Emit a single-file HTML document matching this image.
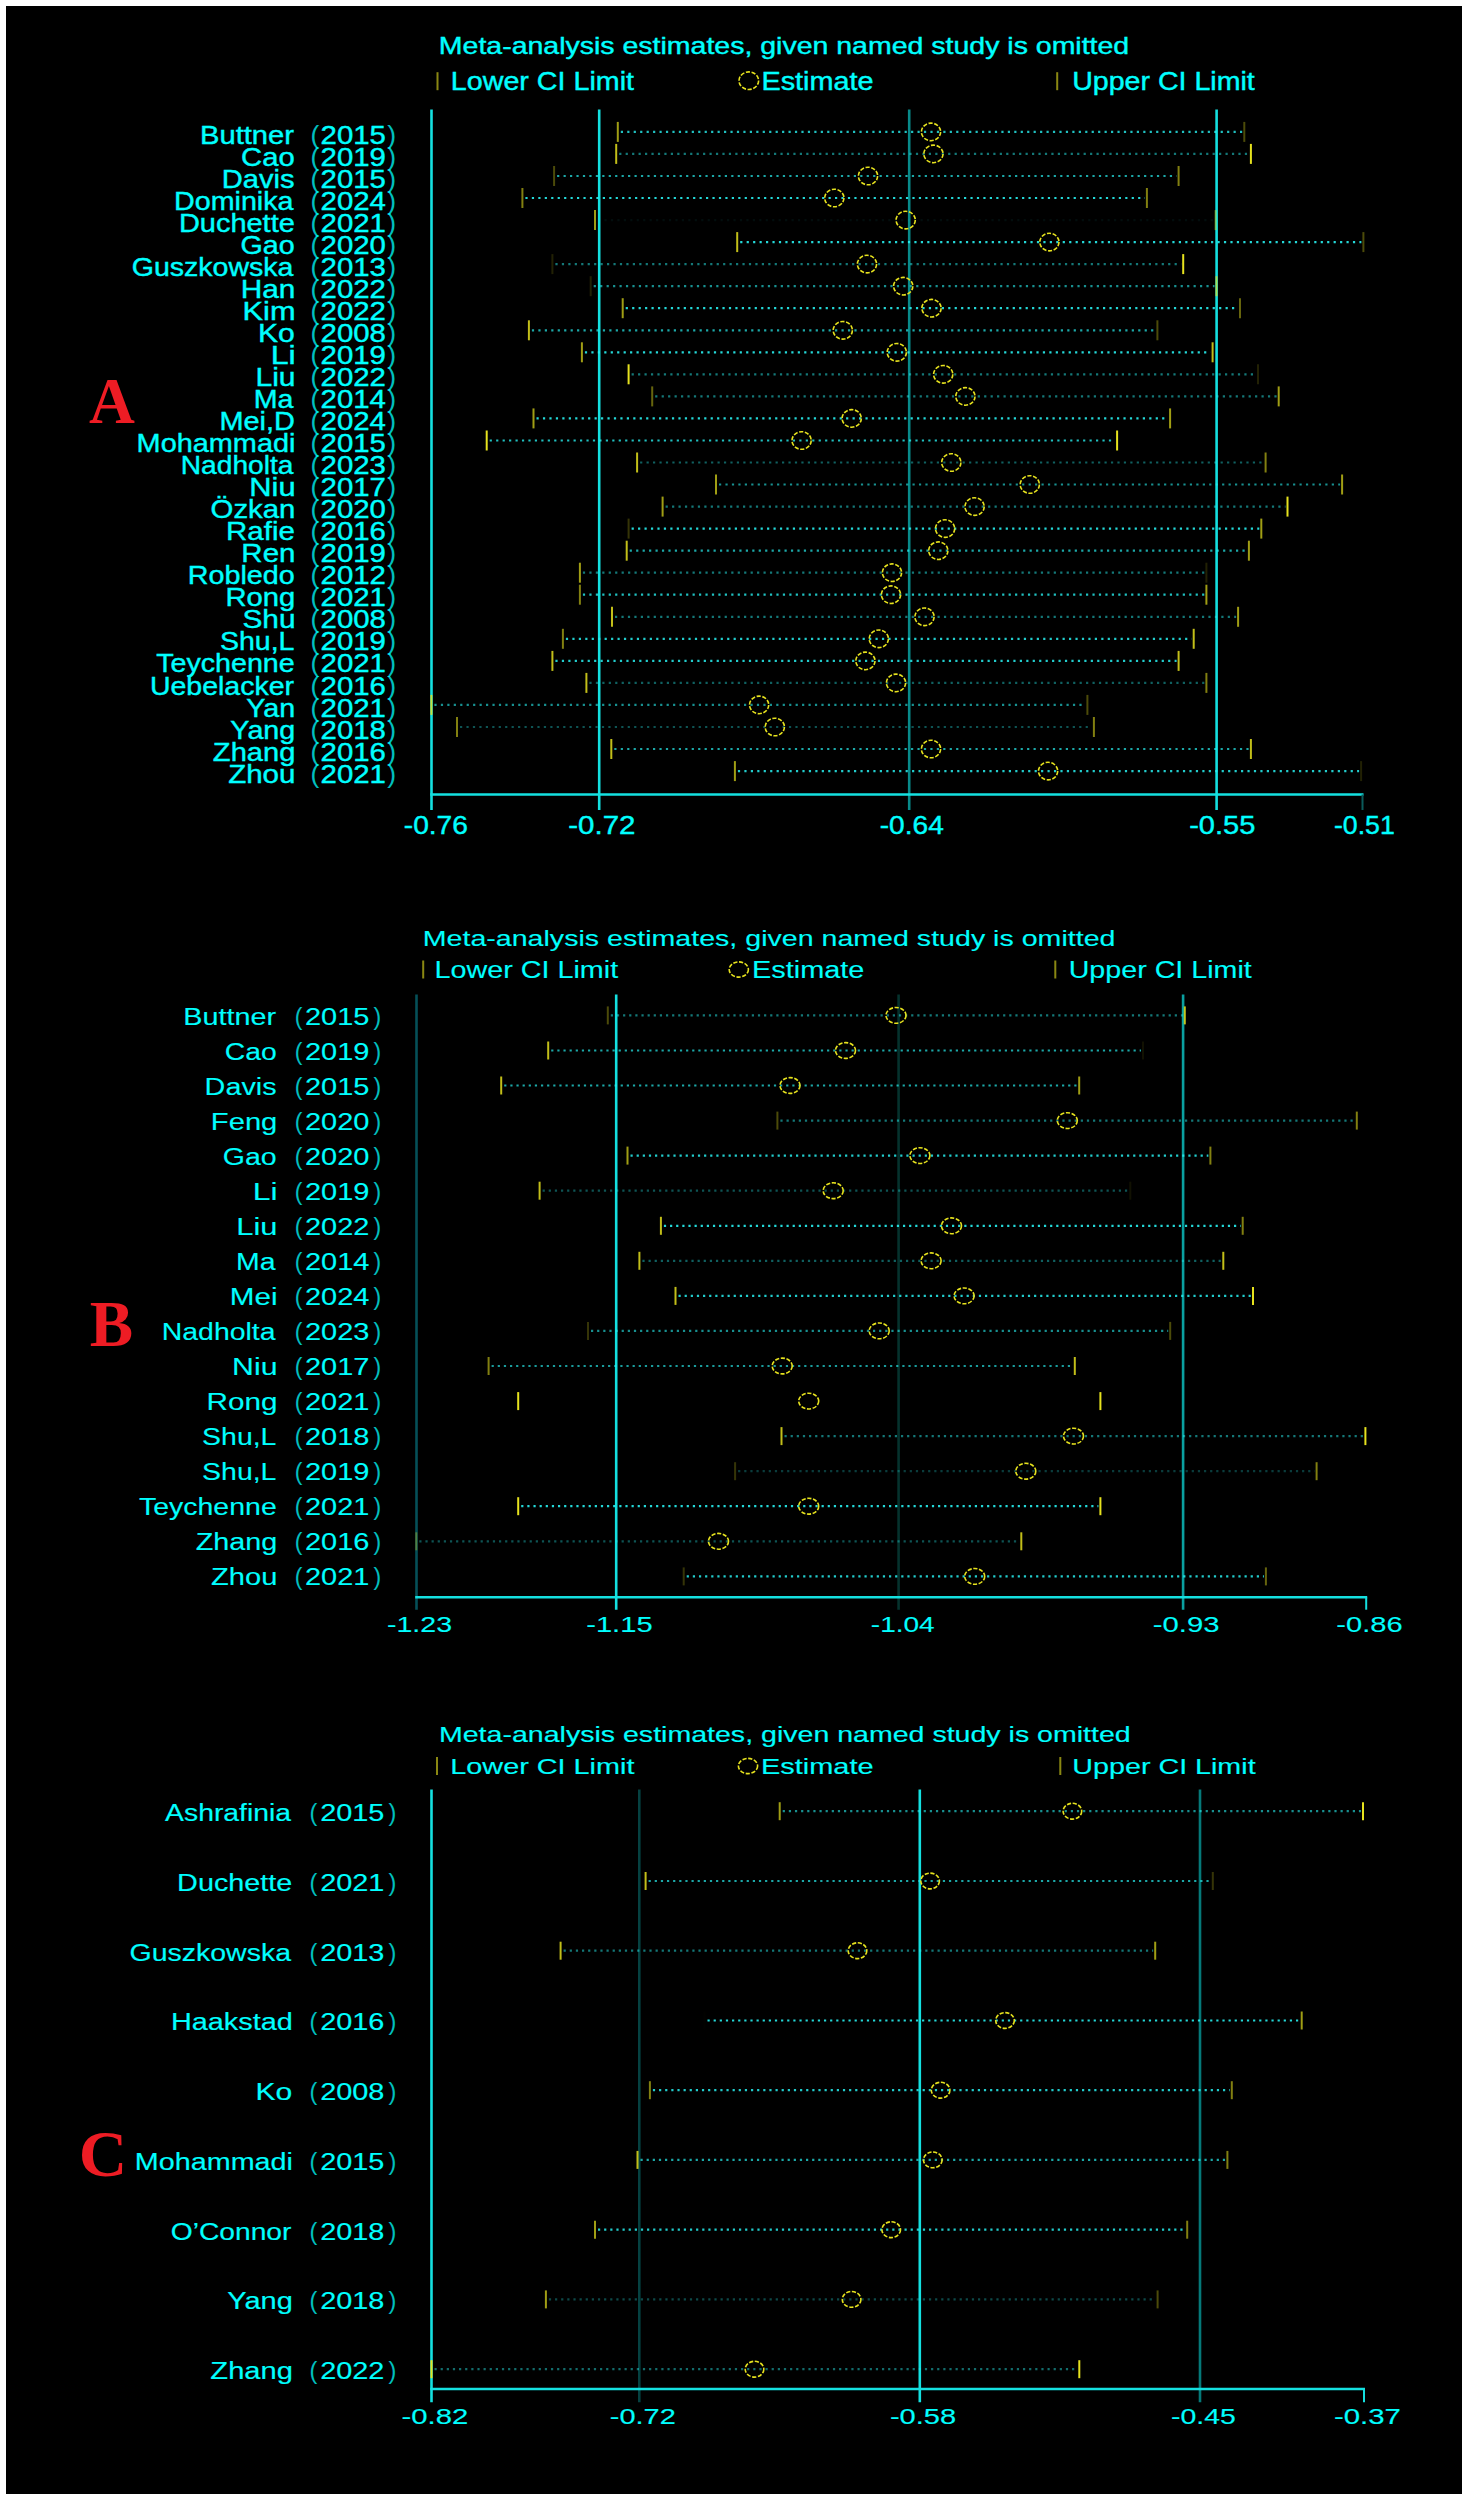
<!DOCTYPE html>
<html><head><meta charset="utf-8"><title>Sensitivity analysis</title><style>
html,body{margin:0;padding:0;background:#fff;width:1468px;height:2500px;overflow:hidden}
svg{position:absolute;left:0;top:0;display:block}
text{font-family:"Liberation Sans",sans-serif}
</style></head><body>
<svg width="1468" height="2500" viewBox="0 0 1468 2500">
<rect x="6" y="6" width="1456" height="2488" fill="#000"/>
<line x1="431.5" y1="109.4" x2="431.5" y2="810" stroke="#14e0e0" stroke-width="2.6"/>
<line x1="599.2" y1="109.4" x2="599.2" y2="810" stroke="#14e0e0" stroke-width="2.6"/>
<line x1="909.2" y1="109.4" x2="909.2" y2="810" stroke="#088a8a" stroke-width="2.6"/>
<line x1="1216.6" y1="109.4" x2="1216.6" y2="810" stroke="#14e0e0" stroke-width="2.6"/>
<line x1="430.2" y1="794.5" x2="1363.5" y2="794.5" stroke="#14e0e0" stroke-width="2.6"/>
<line x1="1362.5" y1="794.5" x2="1362.5" y2="810" stroke="#0b5a5a" stroke-width="2"/>
<text x="403.75" y="833.50" font-size="26.5" textLength="64.19" lengthAdjust="spacingAndGlyphs" fill="#00ffff" style="font-family:&quot;Liberation Sans&quot;;font-weight:normal" stroke="#00ffff" stroke-width="0.4">-0.76</text>
<text x="568.29" y="833.50" font-size="26.5" textLength="67.19" lengthAdjust="spacingAndGlyphs" fill="#00ffff" style="font-family:&quot;Liberation Sans&quot;;font-weight:normal" stroke="#00ffff" stroke-width="0.4">-0.72</text>
<text x="879.75" y="833.50" font-size="26.5" textLength="64.07" lengthAdjust="spacingAndGlyphs" fill="#00ffff" style="font-family:&quot;Liberation Sans&quot;;font-weight:normal" stroke="#00ffff" stroke-width="0.4">-0.64</text>
<text x="1189.21" y="833.50" font-size="26.5" textLength="66.21" lengthAdjust="spacingAndGlyphs" fill="#00ffff" style="font-family:&quot;Liberation Sans&quot;;font-weight:normal" stroke="#00ffff" stroke-width="0.4">-0.55</text>
<text x="1333.91" y="833.50" font-size="26.5" textLength="60.89" lengthAdjust="spacingAndGlyphs" fill="#00ffff" style="font-family:&quot;Liberation Sans&quot;;font-weight:normal" stroke="#00ffff" stroke-width="0.4">-0.51</text>
<text x="438.86" y="53.50" font-size="24.5" textLength="690.37" lengthAdjust="spacingAndGlyphs" fill="#00ffff" style="font-family:&quot;Liberation Sans&quot;;font-weight:normal" stroke="#00ffff" stroke-width="0.4">Meta-analysis estimates, given named study is omitted</text>
<line x1="437.5" y1="72.2" x2="437.5" y2="90.2" stroke="#e6e21e" stroke-width="2" opacity="0.6"/>
<line x1="1057.2" y1="72.2" x2="1057.2" y2="90.2" stroke="#e6e21e" stroke-width="2" opacity="0.6"/>
<ellipse cx="748.8" cy="80.7" rx="9.8" ry="8.8" fill="none" stroke="#e6e21e" stroke-width="1.6" stroke-dasharray="4.2 1.6" opacity="1.0"/>
<text x="450.85" y="90.00" font-size="25.5" textLength="183.16" lengthAdjust="spacingAndGlyphs" fill="#00ffff" style="font-family:&quot;Liberation Sans&quot;;font-weight:normal" stroke="#00ffff" stroke-width="0.4">Lower CI Limit</text>
<text x="761.44" y="90.00" font-size="25.5" textLength="112.04" lengthAdjust="spacingAndGlyphs" fill="#00ffff" style="font-family:&quot;Liberation Sans&quot;;font-weight:normal" stroke="#00ffff" stroke-width="0.4">Estimate</text>
<text x="1072.20" y="90.00" font-size="25.5" textLength="182.61" lengthAdjust="spacingAndGlyphs" fill="#00ffff" style="font-family:&quot;Liberation Sans&quot;;font-weight:normal" stroke="#00ffff" stroke-width="0.4">Upper CI Limit</text>
<line x1="620.8" y1="131.9" x2="1242.3" y2="131.9" stroke="#28f0f0" stroke-width="2.2" stroke-dasharray="2.2 4.25" opacity="0.8"/>
<line x1="617.8" y1="121.9" x2="617.8" y2="141.9" stroke="#e6e21e" stroke-width="2" opacity="0.6997517273236981"/>
<line x1="1244.3" y1="121.9" x2="1244.3" y2="141.9" stroke="#e6e21e" stroke-width="2" opacity="0.32987697769322355"/>
<ellipse cx="931.0" cy="131.9" rx="9.6" ry="8.8" fill="none" stroke="#e6e21e" stroke-width="1.6" stroke-dasharray="4.2 1.6" opacity="1.0"/>
<text x="200.01" y="143.50" font-size="26.5" textLength="93.97" lengthAdjust="spacingAndGlyphs" fill="#00ffff" style="font-family:&quot;Liberation Sans&quot;;font-weight:normal" stroke="#00ffff" stroke-width="0.4">Buttner</text>
<text x="320.62" y="143.50" font-size="26.5" textLength="65.31" lengthAdjust="spacingAndGlyphs" fill="#00ffff" stroke="#00ffff" stroke-width="0.4">2015</text>
<text x="310.56" y="143.50" font-size="26.5" fill="#00ffff" opacity="0.75">(</text>
<text x="387.22" y="143.50" font-size="26.5" fill="#00ffff" opacity="0.75">)</text>
<line x1="619.2" y1="153.9" x2="1248.9" y2="153.9" stroke="#28f0f0" stroke-width="2.2" stroke-dasharray="2.2 4.25" opacity="0.5"/>
<line x1="616.2" y1="143.9" x2="616.2" y2="163.9" stroke="#e6e21e" stroke-width="2" opacity="0.8448663540236125"/>
<line x1="1250.9" y1="143.9" x2="1250.9" y2="163.9" stroke="#e6e21e" stroke-width="2" opacity="1.0"/>
<ellipse cx="933.4" cy="153.9" rx="9.6" ry="8.8" fill="none" stroke="#e6e21e" stroke-width="1.6" stroke-dasharray="4.2 1.6" opacity="1.0"/>
<text x="241.12" y="165.54" font-size="26.5" textLength="53.61" lengthAdjust="spacingAndGlyphs" fill="#00ffff" style="font-family:&quot;Liberation Sans&quot;;font-weight:normal" stroke="#00ffff" stroke-width="0.4">Cao</text>
<text x="320.62" y="165.54" font-size="26.5" textLength="65.31" lengthAdjust="spacingAndGlyphs" fill="#00ffff" stroke="#00ffff" stroke-width="0.4">2019</text>
<text x="310.56" y="165.54" font-size="26.5" fill="#00ffff" opacity="0.75">(</text>
<text x="387.22" y="165.54" font-size="26.5" fill="#00ffff" opacity="0.75">)</text>
<line x1="557.1" y1="176.0" x2="1176.6" y2="176.0" stroke="#28f0f0" stroke-width="2.2" stroke-dasharray="2.2 4.25" opacity="0.7"/>
<line x1="554.1" y1="166.0" x2="554.1" y2="186.0" stroke="#e6e21e" stroke-width="2" opacity="0.32987697769322355"/>
<line x1="1178.6" y1="166.0" x2="1178.6" y2="186.0" stroke="#e6e21e" stroke-width="2" opacity="0.5651410628131079"/>
<ellipse cx="868.0" cy="176.0" rx="9.6" ry="8.8" fill="none" stroke="#e6e21e" stroke-width="1.6" stroke-dasharray="4.2 1.6" opacity="1.0"/>
<text x="221.81" y="187.58" font-size="26.5" textLength="72.74" lengthAdjust="spacingAndGlyphs" fill="#00ffff" style="font-family:&quot;Liberation Sans&quot;;font-weight:normal" stroke="#00ffff" stroke-width="0.4">Davis</text>
<text x="320.62" y="187.58" font-size="26.5" textLength="65.31" lengthAdjust="spacingAndGlyphs" fill="#00ffff" stroke="#00ffff" stroke-width="0.4">2015</text>
<text x="310.56" y="187.58" font-size="26.5" fill="#00ffff" opacity="0.75">(</text>
<text x="387.22" y="187.58" font-size="26.5" fill="#00ffff" opacity="0.75">)</text>
<line x1="525.4" y1="198.0" x2="1144.9" y2="198.0" stroke="#28f0f0" stroke-width="2.2" stroke-dasharray="2.2 4.25" opacity="0.9"/>
<line x1="522.4" y1="188.0" x2="522.4" y2="208.0" stroke="#e6e21e" stroke-width="2" opacity="0.5651410628131079"/>
<line x1="1146.9" y1="188.0" x2="1146.9" y2="208.0" stroke="#e6e21e" stroke-width="2" opacity="0.5651410628131079"/>
<ellipse cx="834.3" cy="198.0" rx="9.6" ry="8.8" fill="none" stroke="#e6e21e" stroke-width="1.6" stroke-dasharray="4.2 1.6" opacity="1.0"/>
<text x="174.05" y="209.62" font-size="26.5" textLength="119.45" lengthAdjust="spacingAndGlyphs" fill="#00ffff" style="font-family:&quot;Liberation Sans&quot;;font-weight:normal" stroke="#00ffff" stroke-width="0.4">Dominika</text>
<text x="320.62" y="209.62" font-size="26.5" textLength="65.31" lengthAdjust="spacingAndGlyphs" fill="#00ffff" stroke="#00ffff" stroke-width="0.4">2024</text>
<text x="310.56" y="209.62" font-size="26.5" fill="#00ffff" opacity="0.75">(</text>
<text x="387.22" y="209.62" font-size="26.5" fill="#00ffff" opacity="0.75">)</text>
<line x1="598.0" y1="220.1" x2="1213.6" y2="220.1" stroke="#28f0f0" stroke-width="2.2" stroke-dasharray="2.2 4.25" opacity="0.05"/>
<line x1="595.0" y1="210.1" x2="595.0" y2="230.1" stroke="#e6e21e" stroke-width="2" opacity="0.6997517273236981"/>
<line x1="1215.6" y1="210.1" x2="1215.6" y2="230.1" stroke="#e6e21e" stroke-width="2" opacity="0.4416131536906999"/>
<ellipse cx="905.7" cy="220.1" rx="9.6" ry="8.8" fill="none" stroke="#e6e21e" stroke-width="1.6" stroke-dasharray="4.2 1.6" opacity="1.0"/>
<text x="178.93" y="231.66" font-size="26.5" textLength="115.86" lengthAdjust="spacingAndGlyphs" fill="#00ffff" style="font-family:&quot;Liberation Sans&quot;;font-weight:normal" stroke="#00ffff" stroke-width="0.4">Duchette</text>
<text x="320.62" y="231.66" font-size="26.5" textLength="65.31" lengthAdjust="spacingAndGlyphs" fill="#00ffff" stroke="#00ffff" stroke-width="0.4">2021</text>
<text x="310.56" y="231.66" font-size="26.5" fill="#00ffff" opacity="0.75">(</text>
<text x="387.22" y="231.66" font-size="26.5" fill="#00ffff" opacity="0.75">)</text>
<line x1="740.2" y1="242.1" x2="1361.4" y2="242.1" stroke="#28f0f0" stroke-width="2.2" stroke-dasharray="2.2 4.25" opacity="0.9"/>
<line x1="737.2" y1="232.1" x2="737.2" y2="252.1" stroke="#e6e21e" stroke-width="2" opacity="0.8448663540236125"/>
<line x1="1363.4" y1="232.1" x2="1363.4" y2="252.1" stroke="#e6e21e" stroke-width="2" opacity="0.32987697769322355"/>
<ellipse cx="1049.4" cy="242.1" rx="9.6" ry="8.8" fill="none" stroke="#e6e21e" stroke-width="1.6" stroke-dasharray="4.2 1.6" opacity="1.0"/>
<text x="240.56" y="253.70" font-size="26.5" textLength="54.14" lengthAdjust="spacingAndGlyphs" fill="#00ffff" style="font-family:&quot;Liberation Sans&quot;;font-weight:normal" stroke="#00ffff" stroke-width="0.4">Gao</text>
<text x="320.62" y="253.70" font-size="26.5" textLength="65.31" lengthAdjust="spacingAndGlyphs" fill="#00ffff" stroke="#00ffff" stroke-width="0.4">2020</text>
<text x="310.56" y="253.70" font-size="26.5" fill="#00ffff" opacity="0.75">(</text>
<text x="387.22" y="253.70" font-size="26.5" fill="#00ffff" opacity="0.75">)</text>
<line x1="555.4" y1="264.1" x2="1181.2" y2="264.1" stroke="#28f0f0" stroke-width="2.2" stroke-dasharray="2.2 4.25" opacity="0.5"/>
<line x1="552.4" y1="254.1" x2="552.4" y2="274.1" stroke="#e6e21e" stroke-width="2" opacity="0.14567801244906112"/>
<line x1="1183.2" y1="254.1" x2="1183.2" y2="274.1" stroke="#e6e21e" stroke-width="2" opacity="1.0"/>
<ellipse cx="867.0" cy="264.1" rx="9.6" ry="8.8" fill="none" stroke="#e6e21e" stroke-width="1.6" stroke-dasharray="4.2 1.6" opacity="1.0"/>
<text x="131.77" y="275.74" font-size="26.5" textLength="161.73" lengthAdjust="spacingAndGlyphs" fill="#00ffff" style="font-family:&quot;Liberation Sans&quot;;font-weight:normal" stroke="#00ffff" stroke-width="0.4">Guszkowska</text>
<text x="320.62" y="275.74" font-size="26.5" textLength="65.31" lengthAdjust="spacingAndGlyphs" fill="#00ffff" stroke="#00ffff" stroke-width="0.4">2013</text>
<text x="310.56" y="275.74" font-size="26.5" fill="#00ffff" opacity="0.75">(</text>
<text x="387.22" y="275.74" font-size="26.5" fill="#00ffff" opacity="0.75">)</text>
<line x1="593.7" y1="286.2" x2="1214.5" y2="286.2" stroke="#28f0f0" stroke-width="2.2" stroke-dasharray="2.2 4.25" opacity="0.6"/>
<line x1="590.7" y1="276.2" x2="590.7" y2="296.2" stroke="#e6e21e" stroke-width="2" opacity="0.14567801244906112"/>
<line x1="1216.5" y1="276.2" x2="1216.5" y2="296.2" stroke="#e6e21e" stroke-width="2" opacity="0.6997517273236981"/>
<ellipse cx="903.2" cy="286.2" rx="9.6" ry="8.8" fill="none" stroke="#e6e21e" stroke-width="1.6" stroke-dasharray="4.2 1.6" opacity="1.0"/>
<text x="240.75" y="297.78" font-size="26.5" textLength="54.68" lengthAdjust="spacingAndGlyphs" fill="#00ffff" style="font-family:&quot;Liberation Sans&quot;;font-weight:normal" stroke="#00ffff" stroke-width="0.4">Han</text>
<text x="320.62" y="297.78" font-size="26.5" textLength="65.31" lengthAdjust="spacingAndGlyphs" fill="#00ffff" stroke="#00ffff" stroke-width="0.4">2022</text>
<text x="310.56" y="297.78" font-size="26.5" fill="#00ffff" opacity="0.75">(</text>
<text x="387.22" y="297.78" font-size="26.5" fill="#00ffff" opacity="0.75">)</text>
<line x1="625.7" y1="308.2" x2="1238.0" y2="308.2" stroke="#28f0f0" stroke-width="2.2" stroke-dasharray="2.2 4.25" opacity="0.9"/>
<line x1="622.7" y1="298.2" x2="622.7" y2="318.2" stroke="#e6e21e" stroke-width="2" opacity="0.6997517273236981"/>
<line x1="1240.0" y1="298.2" x2="1240.0" y2="318.2" stroke="#e6e21e" stroke-width="2" opacity="0.4416131536906999"/>
<ellipse cx="931.5" cy="308.2" rx="9.6" ry="8.8" fill="none" stroke="#e6e21e" stroke-width="1.6" stroke-dasharray="4.2 1.6" opacity="1.0"/>
<text x="242.58" y="319.82" font-size="26.5" textLength="52.95" lengthAdjust="spacingAndGlyphs" fill="#00ffff" style="font-family:&quot;Liberation Sans&quot;;font-weight:normal" stroke="#00ffff" stroke-width="0.4">Kim</text>
<text x="320.62" y="319.82" font-size="26.5" textLength="65.31" lengthAdjust="spacingAndGlyphs" fill="#00ffff" stroke="#00ffff" stroke-width="0.4">2022</text>
<text x="310.56" y="319.82" font-size="26.5" fill="#00ffff" opacity="0.75">(</text>
<text x="387.22" y="319.82" font-size="26.5" fill="#00ffff" opacity="0.75">)</text>
<line x1="531.9" y1="330.3" x2="1155.4" y2="330.3" stroke="#28f0f0" stroke-width="2.2" stroke-dasharray="2.2 4.25" opacity="0.7"/>
<line x1="528.9" y1="320.3" x2="528.9" y2="340.3" stroke="#e6e21e" stroke-width="2" opacity="0.8448663540236125"/>
<line x1="1157.4" y1="320.3" x2="1157.4" y2="340.3" stroke="#e6e21e" stroke-width="2" opacity="0.32987697769322355"/>
<ellipse cx="842.8" cy="330.3" rx="9.6" ry="8.8" fill="none" stroke="#e6e21e" stroke-width="1.6" stroke-dasharray="4.2 1.6" opacity="1.0"/>
<text x="257.93" y="341.86" font-size="26.5" textLength="36.83" lengthAdjust="spacingAndGlyphs" fill="#00ffff" style="font-family:&quot;Liberation Sans&quot;;font-weight:normal" stroke="#00ffff" stroke-width="0.4">Ko</text>
<text x="320.62" y="341.86" font-size="26.5" textLength="65.31" lengthAdjust="spacingAndGlyphs" fill="#00ffff" stroke="#00ffff" stroke-width="0.4">2008</text>
<text x="310.56" y="341.86" font-size="26.5" fill="#00ffff" opacity="0.75">(</text>
<text x="387.22" y="341.86" font-size="26.5" fill="#00ffff" opacity="0.75">)</text>
<line x1="584.9" y1="352.3" x2="1210.6" y2="352.3" stroke="#28f0f0" stroke-width="2.2" stroke-dasharray="2.2 4.25" opacity="0.9"/>
<line x1="581.9" y1="342.3" x2="581.9" y2="362.3" stroke="#e6e21e" stroke-width="2" opacity="0.6997517273236981"/>
<line x1="1212.6" y1="342.3" x2="1212.6" y2="362.3" stroke="#e6e21e" stroke-width="2" opacity="0.8448663540236125"/>
<ellipse cx="896.8" cy="352.3" rx="9.6" ry="8.8" fill="none" stroke="#e6e21e" stroke-width="1.6" stroke-dasharray="4.2 1.6" opacity="1.0"/>
<text x="270.67" y="363.90" font-size="26.5" textLength="25.00" lengthAdjust="spacingAndGlyphs" fill="#00ffff" style="font-family:&quot;Liberation Sans&quot;;font-weight:normal" stroke="#00ffff" stroke-width="0.4">Li</text>
<text x="320.62" y="363.90" font-size="26.5" textLength="65.31" lengthAdjust="spacingAndGlyphs" fill="#00ffff" stroke="#00ffff" stroke-width="0.4">2019</text>
<text x="310.56" y="363.90" font-size="26.5" fill="#00ffff" opacity="0.75">(</text>
<text x="387.22" y="363.90" font-size="26.5" fill="#00ffff" opacity="0.75">)</text>
<line x1="631.6" y1="374.3" x2="1256.0" y2="374.3" stroke="#28f0f0" stroke-width="2.2" stroke-dasharray="2.2 4.25" opacity="0.5"/>
<line x1="628.6" y1="364.3" x2="628.6" y2="384.3" stroke="#e6e21e" stroke-width="2" opacity="1.0"/>
<line x1="1258.0" y1="364.3" x2="1258.0" y2="384.3" stroke="#e6e21e" stroke-width="2" opacity="0.14567801244906112"/>
<ellipse cx="943.2" cy="374.3" rx="9.6" ry="8.8" fill="none" stroke="#e6e21e" stroke-width="1.6" stroke-dasharray="4.2 1.6" opacity="1.0"/>
<text x="255.44" y="385.94" font-size="26.5" textLength="40.06" lengthAdjust="spacingAndGlyphs" fill="#00ffff" style="font-family:&quot;Liberation Sans&quot;;font-weight:normal" stroke="#00ffff" stroke-width="0.4">Liu</text>
<text x="320.62" y="385.94" font-size="26.5" textLength="65.31" lengthAdjust="spacingAndGlyphs" fill="#00ffff" stroke="#00ffff" stroke-width="0.4">2022</text>
<text x="310.56" y="385.94" font-size="26.5" fill="#00ffff" opacity="0.75">(</text>
<text x="387.22" y="385.94" font-size="26.5" fill="#00ffff" opacity="0.75">)</text>
<line x1="655.2" y1="396.4" x2="1276.7" y2="396.4" stroke="#28f0f0" stroke-width="2.2" stroke-dasharray="2.2 4.25" opacity="0.5"/>
<line x1="652.2" y1="386.4" x2="652.2" y2="406.4" stroke="#e6e21e" stroke-width="2" opacity="0.4416131536906999"/>
<line x1="1278.7" y1="386.4" x2="1278.7" y2="406.4" stroke="#e6e21e" stroke-width="2" opacity="0.6997517273236981"/>
<ellipse cx="965.4" cy="396.4" rx="9.6" ry="8.8" fill="none" stroke="#e6e21e" stroke-width="1.6" stroke-dasharray="4.2 1.6" opacity="1.0"/>
<text x="253.75" y="407.98" font-size="26.5" textLength="39.75" lengthAdjust="spacingAndGlyphs" fill="#00ffff" style="font-family:&quot;Liberation Sans&quot;;font-weight:normal" stroke="#00ffff" stroke-width="0.4">Ma</text>
<text x="320.62" y="407.98" font-size="26.5" textLength="65.31" lengthAdjust="spacingAndGlyphs" fill="#00ffff" stroke="#00ffff" stroke-width="0.4">2014</text>
<text x="310.56" y="407.98" font-size="26.5" fill="#00ffff" opacity="0.75">(</text>
<text x="387.22" y="407.98" font-size="26.5" fill="#00ffff" opacity="0.75">)</text>
<line x1="536.5" y1="418.4" x2="1168.1" y2="418.4" stroke="#28f0f0" stroke-width="2.2" stroke-dasharray="2.2 4.25" opacity="0.9"/>
<line x1="533.5" y1="408.4" x2="533.5" y2="428.4" stroke="#e6e21e" stroke-width="2" opacity="0.6997517273236981"/>
<line x1="1170.1" y1="408.4" x2="1170.1" y2="428.4" stroke="#e6e21e" stroke-width="2" opacity="0.6997517273236981"/>
<ellipse cx="851.7" cy="418.4" rx="9.6" ry="8.8" fill="none" stroke="#e6e21e" stroke-width="1.6" stroke-dasharray="4.2 1.6" opacity="1.0"/>
<text x="219.43" y="430.02" font-size="26.5" textLength="75.45" lengthAdjust="spacingAndGlyphs" fill="#00ffff" style="font-family:&quot;Liberation Sans&quot;;font-weight:normal" stroke="#00ffff" stroke-width="0.4">Mei,D</text>
<text x="320.62" y="430.02" font-size="26.5" textLength="65.31" lengthAdjust="spacingAndGlyphs" fill="#00ffff" stroke="#00ffff" stroke-width="0.4">2024</text>
<text x="310.56" y="430.02" font-size="26.5" fill="#00ffff" opacity="0.75">(</text>
<text x="387.22" y="430.02" font-size="26.5" fill="#00ffff" opacity="0.75">)</text>
<line x1="489.7" y1="440.5" x2="1115.1" y2="440.5" stroke="#28f0f0" stroke-width="2.2" stroke-dasharray="2.2 4.25" opacity="0.8"/>
<line x1="486.7" y1="430.5" x2="486.7" y2="450.5" stroke="#e6e21e" stroke-width="2" opacity="1.0"/>
<line x1="1117.1" y1="430.5" x2="1117.1" y2="450.5" stroke="#e6e21e" stroke-width="2" opacity="1.0"/>
<ellipse cx="801.6" cy="440.5" rx="9.6" ry="8.8" fill="none" stroke="#e6e21e" stroke-width="1.6" stroke-dasharray="4.2 1.6" opacity="1.0"/>
<text x="136.63" y="452.06" font-size="26.5" textLength="158.81" lengthAdjust="spacingAndGlyphs" fill="#00ffff" style="font-family:&quot;Liberation Sans&quot;;font-weight:normal" stroke="#00ffff" stroke-width="0.4">Mohammadi</text>
<text x="320.62" y="452.06" font-size="26.5" textLength="65.31" lengthAdjust="spacingAndGlyphs" fill="#00ffff" stroke="#00ffff" stroke-width="0.4">2015</text>
<text x="310.56" y="452.06" font-size="26.5" fill="#00ffff" opacity="0.75">(</text>
<text x="387.22" y="452.06" font-size="26.5" fill="#00ffff" opacity="0.75">)</text>
<line x1="640.1" y1="462.5" x2="1263.6" y2="462.5" stroke="#28f0f0" stroke-width="2.2" stroke-dasharray="2.2 4.25" opacity="0.4"/>
<line x1="637.1" y1="452.5" x2="637.1" y2="472.5" stroke="#e6e21e" stroke-width="2" opacity="0.8448663540236125"/>
<line x1="1265.6" y1="452.5" x2="1265.6" y2="472.5" stroke="#e6e21e" stroke-width="2" opacity="0.5651410628131079"/>
<ellipse cx="951.3" cy="462.5" rx="9.6" ry="8.8" fill="none" stroke="#e6e21e" stroke-width="1.6" stroke-dasharray="4.2 1.6" opacity="1.0"/>
<text x="180.79" y="474.10" font-size="26.5" textLength="112.71" lengthAdjust="spacingAndGlyphs" fill="#00ffff" style="font-family:&quot;Liberation Sans&quot;;font-weight:normal" stroke="#00ffff" stroke-width="0.4">Nadholta</text>
<text x="320.62" y="474.10" font-size="26.5" textLength="65.31" lengthAdjust="spacingAndGlyphs" fill="#00ffff" stroke="#00ffff" stroke-width="0.4">2023</text>
<text x="310.56" y="474.10" font-size="26.5" fill="#00ffff" opacity="0.75">(</text>
<text x="387.22" y="474.10" font-size="26.5" fill="#00ffff" opacity="0.75">)</text>
<line x1="719.0" y1="484.5" x2="1340.1" y2="484.5" stroke="#28f0f0" stroke-width="2.2" stroke-dasharray="2.2 4.25" opacity="0.6"/>
<line x1="716.0" y1="474.5" x2="716.0" y2="494.5" stroke="#e6e21e" stroke-width="2" opacity="0.6997517273236981"/>
<line x1="1342.1" y1="474.5" x2="1342.1" y2="494.5" stroke="#e6e21e" stroke-width="2" opacity="0.6997517273236981"/>
<ellipse cx="1029.8" cy="484.5" rx="9.6" ry="8.8" fill="none" stroke="#e6e21e" stroke-width="1.6" stroke-dasharray="4.2 1.6" opacity="1.0"/>
<text x="249.27" y="496.14" font-size="26.5" textLength="46.28" lengthAdjust="spacingAndGlyphs" fill="#00ffff" style="font-family:&quot;Liberation Sans&quot;;font-weight:normal" stroke="#00ffff" stroke-width="0.4">Niu</text>
<text x="320.62" y="496.14" font-size="26.5" textLength="65.31" lengthAdjust="spacingAndGlyphs" fill="#00ffff" stroke="#00ffff" stroke-width="0.4">2017</text>
<text x="310.56" y="496.14" font-size="26.5" fill="#00ffff" opacity="0.75">(</text>
<text x="387.22" y="496.14" font-size="26.5" fill="#00ffff" opacity="0.75">)</text>
<line x1="665.6" y1="506.6" x2="1285.5" y2="506.6" stroke="#28f0f0" stroke-width="2.2" stroke-dasharray="2.2 4.25" opacity="0.5"/>
<line x1="662.6" y1="496.6" x2="662.6" y2="516.6" stroke="#e6e21e" stroke-width="2" opacity="0.6997517273236981"/>
<line x1="1287.5" y1="496.6" x2="1287.5" y2="516.6" stroke="#e6e21e" stroke-width="2" opacity="1.0"/>
<ellipse cx="974.6" cy="506.6" rx="9.6" ry="8.8" fill="none" stroke="#e6e21e" stroke-width="1.6" stroke-dasharray="4.2 1.6" opacity="1.0"/>
<text x="210.61" y="518.18" font-size="26.5" textLength="84.79" lengthAdjust="spacingAndGlyphs" fill="#00ffff" style="font-family:&quot;Liberation Sans&quot;;font-weight:normal" stroke="#00ffff" stroke-width="0.4">Özkan</text>
<text x="320.62" y="518.18" font-size="26.5" textLength="65.31" lengthAdjust="spacingAndGlyphs" fill="#00ffff" stroke="#00ffff" stroke-width="0.4">2020</text>
<text x="310.56" y="518.18" font-size="26.5" fill="#00ffff" opacity="0.75">(</text>
<text x="387.22" y="518.18" font-size="26.5" fill="#00ffff" opacity="0.75">)</text>
<line x1="631.6" y1="528.6" x2="1259.3" y2="528.6" stroke="#28f0f0" stroke-width="2.2" stroke-dasharray="2.2 4.25" opacity="0.9"/>
<line x1="628.6" y1="518.6" x2="628.6" y2="538.6" stroke="#e6e21e" stroke-width="2" opacity="0.23083198494515417"/>
<line x1="1261.3" y1="518.6" x2="1261.3" y2="538.6" stroke="#e6e21e" stroke-width="2" opacity="0.6997517273236981"/>
<ellipse cx="945.1" cy="528.6" rx="9.6" ry="8.8" fill="none" stroke="#e6e21e" stroke-width="1.6" stroke-dasharray="4.2 1.6" opacity="1.0"/>
<text x="226.09" y="540.22" font-size="26.5" textLength="68.72" lengthAdjust="spacingAndGlyphs" fill="#00ffff" style="font-family:&quot;Liberation Sans&quot;;font-weight:normal" stroke="#00ffff" stroke-width="0.4">Rafie</text>
<text x="320.62" y="540.22" font-size="26.5" textLength="65.31" lengthAdjust="spacingAndGlyphs" fill="#00ffff" stroke="#00ffff" stroke-width="0.4">2016</text>
<text x="310.56" y="540.22" font-size="26.5" fill="#00ffff" opacity="0.75">(</text>
<text x="387.22" y="540.22" font-size="26.5" fill="#00ffff" opacity="0.75">)</text>
<line x1="629.7" y1="550.7" x2="1246.9" y2="550.7" stroke="#28f0f0" stroke-width="2.2" stroke-dasharray="2.2 4.25" opacity="0.7"/>
<line x1="626.7" y1="540.7" x2="626.7" y2="560.7" stroke="#e6e21e" stroke-width="2" opacity="0.8448663540236125"/>
<line x1="1248.9" y1="540.7" x2="1248.9" y2="560.7" stroke="#e6e21e" stroke-width="2" opacity="0.6997517273236981"/>
<ellipse cx="938.3" cy="550.7" rx="9.6" ry="8.8" fill="none" stroke="#e6e21e" stroke-width="1.6" stroke-dasharray="4.2 1.6" opacity="1.0"/>
<text x="241.38" y="562.26" font-size="26.5" textLength="54.03" lengthAdjust="spacingAndGlyphs" fill="#00ffff" style="font-family:&quot;Liberation Sans&quot;;font-weight:normal" stroke="#00ffff" stroke-width="0.4">Ren</text>
<text x="320.62" y="562.26" font-size="26.5" textLength="65.31" lengthAdjust="spacingAndGlyphs" fill="#00ffff" stroke="#00ffff" stroke-width="0.4">2019</text>
<text x="310.56" y="562.26" font-size="26.5" fill="#00ffff" opacity="0.75">(</text>
<text x="387.22" y="562.26" font-size="26.5" fill="#00ffff" opacity="0.75">)</text>
<line x1="582.9" y1="572.7" x2="1204.4" y2="572.7" stroke="#28f0f0" stroke-width="2.2" stroke-dasharray="2.2 4.25" opacity="0.5"/>
<line x1="579.9" y1="562.7" x2="579.9" y2="582.7" stroke="#e6e21e" stroke-width="2" opacity="0.6997517273236981"/>
<line x1="1206.4" y1="562.7" x2="1206.4" y2="582.7" stroke="#e6e21e" stroke-width="2" opacity="0.14567801244906112"/>
<ellipse cx="892.0" cy="572.7" rx="9.6" ry="8.8" fill="none" stroke="#e6e21e" stroke-width="1.6" stroke-dasharray="4.2 1.6" opacity="1.0"/>
<text x="187.74" y="584.30" font-size="26.5" textLength="106.96" lengthAdjust="spacingAndGlyphs" fill="#00ffff" style="font-family:&quot;Liberation Sans&quot;;font-weight:normal" stroke="#00ffff" stroke-width="0.4">Robledo</text>
<text x="320.62" y="584.30" font-size="26.5" textLength="65.31" lengthAdjust="spacingAndGlyphs" fill="#00ffff" stroke="#00ffff" stroke-width="0.4">2012</text>
<text x="310.56" y="584.30" font-size="26.5" fill="#00ffff" opacity="0.75">(</text>
<text x="387.22" y="584.30" font-size="26.5" fill="#00ffff" opacity="0.75">)</text>
<line x1="582.9" y1="594.7" x2="1204.4" y2="594.7" stroke="#28f0f0" stroke-width="2.2" stroke-dasharray="2.2 4.25" opacity="0.8"/>
<line x1="579.9" y1="584.7" x2="579.9" y2="604.7" stroke="#e6e21e" stroke-width="2" opacity="0.5651410628131079"/>
<line x1="1206.4" y1="584.7" x2="1206.4" y2="604.7" stroke="#e6e21e" stroke-width="2" opacity="0.6997517273236981"/>
<ellipse cx="891.0" cy="594.7" rx="9.6" ry="8.8" fill="none" stroke="#e6e21e" stroke-width="1.6" stroke-dasharray="4.2 1.6" opacity="1.0"/>
<text x="225.50" y="606.34" font-size="26.5" textLength="69.88" lengthAdjust="spacingAndGlyphs" fill="#00ffff" style="font-family:&quot;Liberation Sans&quot;;font-weight:normal" stroke="#00ffff" stroke-width="0.4">Rong</text>
<text x="320.62" y="606.34" font-size="26.5" textLength="65.31" lengthAdjust="spacingAndGlyphs" fill="#00ffff" stroke="#00ffff" stroke-width="0.4">2021</text>
<text x="310.56" y="606.34" font-size="26.5" fill="#00ffff" opacity="0.75">(</text>
<text x="387.22" y="606.34" font-size="26.5" fill="#00ffff" opacity="0.75">)</text>
<line x1="615.0" y1="616.8" x2="1236.1" y2="616.8" stroke="#28f0f0" stroke-width="2.2" stroke-dasharray="2.2 4.25" opacity="0.5"/>
<line x1="612.0" y1="606.8" x2="612.0" y2="626.8" stroke="#e6e21e" stroke-width="2" opacity="0.8448663540236125"/>
<line x1="1238.1" y1="606.8" x2="1238.1" y2="626.8" stroke="#e6e21e" stroke-width="2" opacity="0.6997517273236981"/>
<ellipse cx="924.5" cy="616.8" rx="9.6" ry="8.8" fill="none" stroke="#e6e21e" stroke-width="1.6" stroke-dasharray="4.2 1.6" opacity="1.0"/>
<text x="242.45" y="628.38" font-size="26.5" textLength="53.03" lengthAdjust="spacingAndGlyphs" fill="#00ffff" style="font-family:&quot;Liberation Sans&quot;;font-weight:normal" stroke="#00ffff" stroke-width="0.4">Shu</text>
<text x="320.62" y="628.38" font-size="26.5" textLength="65.31" lengthAdjust="spacingAndGlyphs" fill="#00ffff" stroke="#00ffff" stroke-width="0.4">2008</text>
<text x="310.56" y="628.38" font-size="26.5" fill="#00ffff" opacity="0.75">(</text>
<text x="387.22" y="628.38" font-size="26.5" fill="#00ffff" opacity="0.75">)</text>
<line x1="565.9" y1="638.8" x2="1191.7" y2="638.8" stroke="#28f0f0" stroke-width="2.2" stroke-dasharray="2.2 4.25" opacity="0.85"/>
<line x1="562.9" y1="628.8" x2="562.9" y2="648.8" stroke="#e6e21e" stroke-width="2" opacity="0.5651410628131079"/>
<line x1="1193.7" y1="628.8" x2="1193.7" y2="648.8" stroke="#e6e21e" stroke-width="2" opacity="0.8448663540236125"/>
<ellipse cx="878.8" cy="638.8" rx="9.6" ry="8.8" fill="none" stroke="#e6e21e" stroke-width="1.6" stroke-dasharray="4.2 1.6" opacity="1.0"/>
<text x="219.90" y="650.42" font-size="26.5" textLength="74.54" lengthAdjust="spacingAndGlyphs" fill="#00ffff" style="font-family:&quot;Liberation Sans&quot;;font-weight:normal" stroke="#00ffff" stroke-width="0.4">Shu,L</text>
<text x="320.62" y="650.42" font-size="26.5" textLength="65.31" lengthAdjust="spacingAndGlyphs" fill="#00ffff" stroke="#00ffff" stroke-width="0.4">2019</text>
<text x="310.56" y="650.42" font-size="26.5" fill="#00ffff" opacity="0.75">(</text>
<text x="387.22" y="650.42" font-size="26.5" fill="#00ffff" opacity="0.75">)</text>
<line x1="555.4" y1="660.9" x2="1176.6" y2="660.9" stroke="#28f0f0" stroke-width="2.2" stroke-dasharray="2.2 4.25" opacity="0.85"/>
<line x1="552.4" y1="650.9" x2="552.4" y2="670.9" stroke="#e6e21e" stroke-width="2" opacity="0.8448663540236125"/>
<line x1="1178.6" y1="650.9" x2="1178.6" y2="670.9" stroke="#e6e21e" stroke-width="2" opacity="0.8448663540236125"/>
<ellipse cx="865.4" cy="660.9" rx="9.6" ry="8.8" fill="none" stroke="#e6e21e" stroke-width="1.6" stroke-dasharray="4.2 1.6" opacity="1.0"/>
<text x="156.17" y="672.46" font-size="26.5" textLength="138.57" lengthAdjust="spacingAndGlyphs" fill="#00ffff" style="font-family:&quot;Liberation Sans&quot;;font-weight:normal" stroke="#00ffff" stroke-width="0.4">Teychenne</text>
<text x="320.62" y="672.46" font-size="26.5" textLength="65.31" lengthAdjust="spacingAndGlyphs" fill="#00ffff" stroke="#00ffff" stroke-width="0.4">2021</text>
<text x="310.56" y="672.46" font-size="26.5" fill="#00ffff" opacity="0.75">(</text>
<text x="387.22" y="672.46" font-size="26.5" fill="#00ffff" opacity="0.75">)</text>
<line x1="589.4" y1="682.9" x2="1204.4" y2="682.9" stroke="#28f0f0" stroke-width="2.2" stroke-dasharray="2.2 4.25" opacity="0.4"/>
<line x1="586.4" y1="672.9" x2="586.4" y2="692.9" stroke="#e6e21e" stroke-width="2" opacity="0.8448663540236125"/>
<line x1="1206.4" y1="672.9" x2="1206.4" y2="692.9" stroke="#e6e21e" stroke-width="2" opacity="0.5651410628131079"/>
<ellipse cx="896.0" cy="682.9" rx="9.6" ry="8.8" fill="none" stroke="#e6e21e" stroke-width="1.6" stroke-dasharray="4.2 1.6" opacity="1.0"/>
<text x="149.90" y="694.50" font-size="26.5" textLength="144.07" lengthAdjust="spacingAndGlyphs" fill="#00ffff" style="font-family:&quot;Liberation Sans&quot;;font-weight:normal" stroke="#00ffff" stroke-width="0.4">Uebelacker</text>
<text x="320.62" y="694.50" font-size="26.5" textLength="65.31" lengthAdjust="spacingAndGlyphs" fill="#00ffff" stroke="#00ffff" stroke-width="0.4">2016</text>
<text x="310.56" y="694.50" font-size="26.5" fill="#00ffff" opacity="0.75">(</text>
<text x="387.22" y="694.50" font-size="26.5" fill="#00ffff" opacity="0.75">)</text>
<line x1="434.4" y1="704.9" x2="1085.4" y2="704.9" stroke="#28f0f0" stroke-width="2.2" stroke-dasharray="2.2 4.25" opacity="0.6"/>
<line x1="431.4" y1="694.9" x2="431.4" y2="714.9" stroke="#e6e21e" stroke-width="2" opacity="0.8448663540236125"/>
<line x1="1087.4" y1="694.9" x2="1087.4" y2="714.9" stroke="#e6e21e" stroke-width="2" opacity="0.32987697769322355"/>
<ellipse cx="759.1" cy="704.9" rx="9.6" ry="8.8" fill="none" stroke="#e6e21e" stroke-width="1.6" stroke-dasharray="4.2 1.6" opacity="1.0"/>
<text x="246.29" y="716.54" font-size="26.5" textLength="48.99" lengthAdjust="spacingAndGlyphs" fill="#00ffff" style="font-family:&quot;Liberation Sans&quot;;font-weight:normal" stroke="#00ffff" stroke-width="0.4">Yan</text>
<text x="320.62" y="716.54" font-size="26.5" textLength="65.31" lengthAdjust="spacingAndGlyphs" fill="#00ffff" stroke="#00ffff" stroke-width="0.4">2021</text>
<text x="310.56" y="716.54" font-size="26.5" fill="#00ffff" opacity="0.75">(</text>
<text x="387.22" y="716.54" font-size="26.5" fill="#00ffff" opacity="0.75">)</text>
<line x1="460.0" y1="727.0" x2="1091.9" y2="727.0" stroke="#28f0f0" stroke-width="2.2" stroke-dasharray="2.2 4.25" opacity="0.35"/>
<line x1="457.0" y1="717.0" x2="457.0" y2="737.0" stroke="#e6e21e" stroke-width="2" opacity="0.5651410628131079"/>
<line x1="1093.9" y1="717.0" x2="1093.9" y2="737.0" stroke="#e6e21e" stroke-width="2" opacity="0.5651410628131079"/>
<ellipse cx="774.8" cy="727.0" rx="9.6" ry="8.8" fill="none" stroke="#e6e21e" stroke-width="1.6" stroke-dasharray="4.2 1.6" opacity="1.0"/>
<text x="230.39" y="738.58" font-size="26.5" textLength="64.90" lengthAdjust="spacingAndGlyphs" fill="#00ffff" style="font-family:&quot;Liberation Sans&quot;;font-weight:normal" stroke="#00ffff" stroke-width="0.4">Yang</text>
<text x="320.62" y="738.58" font-size="26.5" textLength="65.31" lengthAdjust="spacingAndGlyphs" fill="#00ffff" stroke="#00ffff" stroke-width="0.4">2018</text>
<text x="310.56" y="738.58" font-size="26.5" fill="#00ffff" opacity="0.75">(</text>
<text x="387.22" y="738.58" font-size="26.5" fill="#00ffff" opacity="0.75">)</text>
<line x1="614.3" y1="749.0" x2="1248.9" y2="749.0" stroke="#28f0f0" stroke-width="2.2" stroke-dasharray="2.2 4.25" opacity="0.7"/>
<line x1="611.3" y1="739.0" x2="611.3" y2="759.0" stroke="#e6e21e" stroke-width="2" opacity="0.8448663540236125"/>
<line x1="1250.9" y1="739.0" x2="1250.9" y2="759.0" stroke="#e6e21e" stroke-width="2" opacity="0.8448663540236125"/>
<ellipse cx="931.0" cy="749.0" rx="9.6" ry="8.8" fill="none" stroke="#e6e21e" stroke-width="1.6" stroke-dasharray="4.2 1.6" opacity="1.0"/>
<text x="212.88" y="760.62" font-size="26.5" textLength="82.50" lengthAdjust="spacingAndGlyphs" fill="#00ffff" style="font-family:&quot;Liberation Sans&quot;;font-weight:normal" stroke="#00ffff" stroke-width="0.4">Zhang</text>
<text x="320.62" y="760.62" font-size="26.5" textLength="65.31" lengthAdjust="spacingAndGlyphs" fill="#00ffff" stroke="#00ffff" stroke-width="0.4">2016</text>
<text x="310.56" y="760.62" font-size="26.5" fill="#00ffff" opacity="0.75">(</text>
<text x="387.22" y="760.62" font-size="26.5" fill="#00ffff" opacity="0.75">)</text>
<line x1="737.9" y1="771.1" x2="1359.1" y2="771.1" stroke="#28f0f0" stroke-width="2.2" stroke-dasharray="2.2 4.25" opacity="0.85"/>
<line x1="734.9" y1="761.1" x2="734.9" y2="781.1" stroke="#e6e21e" stroke-width="2" opacity="0.6997517273236981"/>
<line x1="1361.1" y1="761.1" x2="1361.1" y2="781.1" stroke="#e6e21e" stroke-width="2" opacity="0.14567801244906112"/>
<ellipse cx="1048.1" cy="771.1" rx="9.6" ry="8.8" fill="none" stroke="#e6e21e" stroke-width="1.6" stroke-dasharray="4.2 1.6" opacity="1.0"/>
<text x="228.16" y="782.66" font-size="26.5" textLength="67.30" lengthAdjust="spacingAndGlyphs" fill="#00ffff" style="font-family:&quot;Liberation Sans&quot;;font-weight:normal" stroke="#00ffff" stroke-width="0.4">Zhou</text>
<text x="320.62" y="782.66" font-size="26.5" textLength="65.31" lengthAdjust="spacingAndGlyphs" fill="#00ffff" stroke="#00ffff" stroke-width="0.4">2021</text>
<text x="310.56" y="782.66" font-size="26.5" fill="#00ffff" opacity="0.75">(</text>
<text x="387.22" y="782.66" font-size="26.5" fill="#00ffff" opacity="0.75">)</text>
<line x1="416.5" y1="994.5" x2="416.5" y2="1609.7" stroke="#055058" stroke-width="2.6"/>
<line x1="616.2" y1="994.5" x2="616.2" y2="1609.7" stroke="#14e0e0" stroke-width="2.6"/>
<line x1="898.6" y1="994.5" x2="898.6" y2="1609.7" stroke="#05322d" stroke-width="2.6"/>
<line x1="1183.1" y1="994.5" x2="1183.1" y2="1609.7" stroke="#0aa0a0" stroke-width="2.6"/>
<line x1="415.2" y1="1597.3" x2="1367.2" y2="1597.3" stroke="#14e0e0" stroke-width="2.6"/>
<line x1="1366.2" y1="1597.3" x2="1366.2" y2="1609.7" stroke="#14e0e0" stroke-width="2"/>
<text x="387.03" y="1631.50" font-size="22.5" textLength="65.02" lengthAdjust="spacingAndGlyphs" fill="#00ffff" style="font-family:&quot;Liberation Sans&quot;;font-weight:normal" stroke="#00ffff" stroke-width="0.1">-1.23</text>
<text x="586.21" y="1631.50" font-size="22.5" textLength="66.42" lengthAdjust="spacingAndGlyphs" fill="#00ffff" style="font-family:&quot;Liberation Sans&quot;;font-weight:normal" stroke="#00ffff" stroke-width="0.1">-1.15</text>
<text x="870.85" y="1631.50" font-size="22.5" textLength="63.87" lengthAdjust="spacingAndGlyphs" fill="#00ffff" style="font-family:&quot;Liberation Sans&quot;;font-weight:normal" stroke="#00ffff" stroke-width="0.1">-1.04</text>
<text x="1152.80" y="1631.50" font-size="22.5" textLength="66.69" lengthAdjust="spacingAndGlyphs" fill="#00ffff" style="font-family:&quot;Liberation Sans&quot;;font-weight:normal" stroke="#00ffff" stroke-width="0.1">-0.93</text>
<text x="1336.31" y="1631.50" font-size="22.5" textLength="66.27" lengthAdjust="spacingAndGlyphs" fill="#00ffff" style="font-family:&quot;Liberation Sans&quot;;font-weight:normal" stroke="#00ffff" stroke-width="0.1">-0.86</text>
<text x="422.76" y="945.50" font-size="22" textLength="692.69" lengthAdjust="spacingAndGlyphs" fill="#00ffff" style="font-family:&quot;Liberation Sans&quot;;font-weight:normal" stroke="#00ffff" stroke-width="0.1">Meta-analysis estimates, given named study is omitted</text>
<line x1="423.2" y1="960.5" x2="423.2" y2="978.5" stroke="#e6e21e" stroke-width="2" opacity="0.6"/>
<line x1="1055.3" y1="960.5" x2="1055.3" y2="978.5" stroke="#e6e21e" stroke-width="2" opacity="0.6"/>
<ellipse cx="738.8" cy="969.5" rx="9.6" ry="7.6" fill="none" stroke="#e6e21e" stroke-width="1.6" stroke-dasharray="4.2 1.6" opacity="1.0"/>
<text x="434.44" y="977.70" font-size="23" textLength="183.77" lengthAdjust="spacingAndGlyphs" fill="#00ffff" style="font-family:&quot;Liberation Sans&quot;;font-weight:normal" stroke="#00ffff" stroke-width="0.1">Lower CI Limit</text>
<text x="752.03" y="977.70" font-size="23" textLength="112.35" lengthAdjust="spacingAndGlyphs" fill="#00ffff" style="font-family:&quot;Liberation Sans&quot;;font-weight:normal" stroke="#00ffff" stroke-width="0.1">Estimate</text>
<text x="1068.69" y="977.70" font-size="23" textLength="183.02" lengthAdjust="spacingAndGlyphs" fill="#00ffff" style="font-family:&quot;Liberation Sans&quot;;font-weight:normal" stroke="#00ffff" stroke-width="0.1">Upper CI Limit</text>
<line x1="610.8" y1="1015.4" x2="1182.8" y2="1015.4" stroke="#28f0f0" stroke-width="2.2" stroke-dasharray="2.2 3.93" opacity="0.5"/>
<line x1="607.8" y1="1006.4" x2="607.8" y2="1024.4" stroke="#e6e21e" stroke-width="2" opacity="0.32987697769322355"/>
<line x1="1184.8" y1="1006.4" x2="1184.8" y2="1024.4" stroke="#e6e21e" stroke-width="2" opacity="0.8448663540236125"/>
<ellipse cx="896.0" cy="1015.4" rx="10" ry="7.9" fill="none" stroke="#e6e21e" stroke-width="1.6" stroke-dasharray="4.2 1.6" opacity="1.0"/>
<text x="183.24" y="1024.50" font-size="23" textLength="92.74" lengthAdjust="spacingAndGlyphs" fill="#00ffff" style="font-family:&quot;Liberation Sans&quot;;font-weight:normal" stroke="#00ffff" stroke-width="0.1">Buttner</text>
<text x="304.94" y="1024.50" font-size="23" textLength="64.47" lengthAdjust="spacingAndGlyphs" fill="#00ffff" stroke="#00ffff" stroke-width="0.1">2015</text>
<text x="294.77" y="1024.50" font-size="23" fill="#00ffff" opacity="0.75">(</text>
<text x="373.57" y="1024.50" font-size="23" fill="#00ffff" opacity="0.75">)</text>
<line x1="551.2" y1="1050.5" x2="1141.0" y2="1050.5" stroke="#28f0f0" stroke-width="2.2" stroke-dasharray="2.2 3.93" opacity="0.7"/>
<line x1="548.2" y1="1041.5" x2="548.2" y2="1059.5" stroke="#e6e21e" stroke-width="2" opacity="0.8448663540236125"/>
<line x1="1143.0" y1="1041.5" x2="1143.0" y2="1059.5" stroke="#e6e21e" stroke-width="2" opacity="0.07614615754863513"/>
<ellipse cx="845.5" cy="1050.5" rx="10" ry="7.9" fill="none" stroke="#e6e21e" stroke-width="1.6" stroke-dasharray="4.2 1.6" opacity="1.0"/>
<text x="224.66" y="1059.56" font-size="23" textLength="52.03" lengthAdjust="spacingAndGlyphs" fill="#00ffff" style="font-family:&quot;Liberation Sans&quot;;font-weight:normal" stroke="#00ffff" stroke-width="0.1">Cao</text>
<text x="304.94" y="1059.56" font-size="23" textLength="64.47" lengthAdjust="spacingAndGlyphs" fill="#00ffff" stroke="#00ffff" stroke-width="0.1">2019</text>
<text x="294.77" y="1059.56" font-size="23" fill="#00ffff" opacity="0.75">(</text>
<text x="373.57" y="1059.56" font-size="23" fill="#00ffff" opacity="0.75">)</text>
<line x1="504.2" y1="1085.5" x2="1077.2" y2="1085.5" stroke="#28f0f0" stroke-width="2.2" stroke-dasharray="2.2 3.93" opacity="0.7"/>
<line x1="501.2" y1="1076.5" x2="501.2" y2="1094.5" stroke="#e6e21e" stroke-width="2" opacity="0.8448663540236125"/>
<line x1="1079.2" y1="1076.5" x2="1079.2" y2="1094.5" stroke="#e6e21e" stroke-width="2" opacity="0.6997517273236981"/>
<ellipse cx="790.0" cy="1085.5" rx="10" ry="7.9" fill="none" stroke="#e6e21e" stroke-width="1.6" stroke-dasharray="4.2 1.6" opacity="1.0"/>
<text x="204.64" y="1094.62" font-size="23" textLength="71.90" lengthAdjust="spacingAndGlyphs" fill="#00ffff" style="font-family:&quot;Liberation Sans&quot;;font-weight:normal" stroke="#00ffff" stroke-width="0.1">Davis</text>
<text x="304.94" y="1094.62" font-size="23" textLength="64.47" lengthAdjust="spacingAndGlyphs" fill="#00ffff" stroke="#00ffff" stroke-width="0.1">2015</text>
<text x="294.77" y="1094.62" font-size="23" fill="#00ffff" opacity="0.75">(</text>
<text x="373.57" y="1094.62" font-size="23" fill="#00ffff" opacity="0.75">)</text>
<line x1="780.4" y1="1120.6" x2="1354.8" y2="1120.6" stroke="#28f0f0" stroke-width="2.2" stroke-dasharray="2.2 3.93" opacity="0.5"/>
<line x1="777.4" y1="1111.6" x2="777.4" y2="1129.6" stroke="#e6e21e" stroke-width="2" opacity="0.32987697769322355"/>
<line x1="1356.8" y1="1111.6" x2="1356.8" y2="1129.6" stroke="#e6e21e" stroke-width="2" opacity="0.5651410628131079"/>
<ellipse cx="1067.3" cy="1120.6" rx="10" ry="7.9" fill="none" stroke="#e6e21e" stroke-width="1.6" stroke-dasharray="4.2 1.6" opacity="1.0"/>
<text x="210.80" y="1129.68" font-size="23" textLength="66.58" lengthAdjust="spacingAndGlyphs" fill="#00ffff" style="font-family:&quot;Liberation Sans&quot;;font-weight:normal" stroke="#00ffff" stroke-width="0.1">Feng</text>
<text x="304.94" y="1129.68" font-size="23" textLength="64.47" lengthAdjust="spacingAndGlyphs" fill="#00ffff" stroke="#00ffff" stroke-width="0.1">2020</text>
<text x="294.77" y="1129.68" font-size="23" fill="#00ffff" opacity="0.75">(</text>
<text x="373.57" y="1129.68" font-size="23" fill="#00ffff" opacity="0.75">)</text>
<line x1="630.5" y1="1155.6" x2="1208.4" y2="1155.6" stroke="#28f0f0" stroke-width="2.2" stroke-dasharray="2.2 3.93" opacity="0.85"/>
<line x1="627.5" y1="1146.6" x2="627.5" y2="1164.6" stroke="#e6e21e" stroke-width="2" opacity="0.6997517273236981"/>
<line x1="1210.4" y1="1146.6" x2="1210.4" y2="1164.6" stroke="#e6e21e" stroke-width="2" opacity="0.5651410628131079"/>
<ellipse cx="919.9" cy="1155.6" rx="10" ry="7.9" fill="none" stroke="#e6e21e" stroke-width="1.6" stroke-dasharray="4.2 1.6" opacity="1.0"/>
<text x="222.76" y="1164.74" font-size="23" textLength="53.93" lengthAdjust="spacingAndGlyphs" fill="#00ffff" style="font-family:&quot;Liberation Sans&quot;;font-weight:normal" stroke="#00ffff" stroke-width="0.1">Gao</text>
<text x="304.94" y="1164.74" font-size="23" textLength="64.47" lengthAdjust="spacingAndGlyphs" fill="#00ffff" stroke="#00ffff" stroke-width="0.1">2020</text>
<text x="294.77" y="1164.74" font-size="23" fill="#00ffff" opacity="0.75">(</text>
<text x="373.57" y="1164.74" font-size="23" fill="#00ffff" opacity="0.75">)</text>
<line x1="542.6" y1="1190.7" x2="1128.3" y2="1190.7" stroke="#28f0f0" stroke-width="2.2" stroke-dasharray="2.2 3.93" opacity="0.35"/>
<line x1="539.6" y1="1181.7" x2="539.6" y2="1199.7" stroke="#e6e21e" stroke-width="2" opacity="0.8448663540236125"/>
<line x1="1130.3" y1="1181.7" x2="1130.3" y2="1199.7" stroke="#e6e21e" stroke-width="2" opacity="0.07614615754863513"/>
<ellipse cx="833.2" cy="1190.7" rx="10" ry="7.9" fill="none" stroke="#e6e21e" stroke-width="1.6" stroke-dasharray="4.2 1.6" opacity="1.0"/>
<text x="252.89" y="1199.80" font-size="23" textLength="24.75" lengthAdjust="spacingAndGlyphs" fill="#00ffff" style="font-family:&quot;Liberation Sans&quot;;font-weight:normal" stroke="#00ffff" stroke-width="0.1">Li</text>
<text x="304.94" y="1199.80" font-size="23" textLength="64.47" lengthAdjust="spacingAndGlyphs" fill="#00ffff" stroke="#00ffff" stroke-width="0.1">2019</text>
<text x="294.77" y="1199.80" font-size="23" fill="#00ffff" opacity="0.75">(</text>
<text x="373.57" y="1199.80" font-size="23" fill="#00ffff" opacity="0.75">)</text>
<line x1="663.9" y1="1225.8" x2="1240.7" y2="1225.8" stroke="#28f0f0" stroke-width="2.2" stroke-dasharray="2.2 3.93" opacity="0.9"/>
<line x1="660.9" y1="1216.8" x2="660.9" y2="1234.8" stroke="#e6e21e" stroke-width="2" opacity="0.8448663540236125"/>
<line x1="1242.7" y1="1216.8" x2="1242.7" y2="1234.8" stroke="#e6e21e" stroke-width="2" opacity="0.5651410628131079"/>
<ellipse cx="951.5" cy="1225.8" rx="10" ry="7.9" fill="none" stroke="#e6e21e" stroke-width="1.6" stroke-dasharray="4.2 1.6" opacity="1.0"/>
<text x="236.37" y="1234.86" font-size="23" textLength="41.18" lengthAdjust="spacingAndGlyphs" fill="#00ffff" style="font-family:&quot;Liberation Sans&quot;;font-weight:normal" stroke="#00ffff" stroke-width="0.1">Liu</text>
<text x="304.94" y="1234.86" font-size="23" textLength="64.47" lengthAdjust="spacingAndGlyphs" fill="#00ffff" stroke="#00ffff" stroke-width="0.1">2022</text>
<text x="294.77" y="1234.86" font-size="23" fill="#00ffff" opacity="0.75">(</text>
<text x="373.57" y="1234.86" font-size="23" fill="#00ffff" opacity="0.75">)</text>
<line x1="642.4" y1="1260.8" x2="1221.3" y2="1260.8" stroke="#28f0f0" stroke-width="2.2" stroke-dasharray="2.2 3.93" opacity="0.4"/>
<line x1="639.4" y1="1251.8" x2="639.4" y2="1269.8" stroke="#e6e21e" stroke-width="2" opacity="0.8448663540236125"/>
<line x1="1223.3" y1="1251.8" x2="1223.3" y2="1269.8" stroke="#e6e21e" stroke-width="2" opacity="0.8448663540236125"/>
<ellipse cx="931.1" cy="1260.8" rx="10" ry="7.9" fill="none" stroke="#e6e21e" stroke-width="1.6" stroke-dasharray="4.2 1.6" opacity="1.0"/>
<text x="235.97" y="1269.92" font-size="23" textLength="39.53" lengthAdjust="spacingAndGlyphs" fill="#00ffff" style="font-family:&quot;Liberation Sans&quot;;font-weight:normal" stroke="#00ffff" stroke-width="0.1">Ma</text>
<text x="304.94" y="1269.92" font-size="23" textLength="64.47" lengthAdjust="spacingAndGlyphs" fill="#00ffff" stroke="#00ffff" stroke-width="0.1">2014</text>
<text x="294.77" y="1269.92" font-size="23" fill="#00ffff" opacity="0.75">(</text>
<text x="373.57" y="1269.92" font-size="23" fill="#00ffff" opacity="0.75">)</text>
<line x1="678.5" y1="1295.9" x2="1251.0" y2="1295.9" stroke="#28f0f0" stroke-width="2.2" stroke-dasharray="2.2 3.93" opacity="0.85"/>
<line x1="675.5" y1="1286.9" x2="675.5" y2="1304.9" stroke="#e6e21e" stroke-width="2" opacity="0.8448663540236125"/>
<line x1="1253.0" y1="1286.9" x2="1253.0" y2="1304.9" stroke="#e6e21e" stroke-width="2" opacity="1.0"/>
<ellipse cx="964.1" cy="1295.9" rx="10" ry="7.9" fill="none" stroke="#e6e21e" stroke-width="1.6" stroke-dasharray="4.2 1.6" opacity="1.0"/>
<text x="229.77" y="1304.98" font-size="23" textLength="47.73" lengthAdjust="spacingAndGlyphs" fill="#00ffff" style="font-family:&quot;Liberation Sans&quot;;font-weight:normal" stroke="#00ffff" stroke-width="0.1">Mei</text>
<text x="304.94" y="1304.98" font-size="23" textLength="64.47" lengthAdjust="spacingAndGlyphs" fill="#00ffff" stroke="#00ffff" stroke-width="0.1">2024</text>
<text x="294.77" y="1304.98" font-size="23" fill="#00ffff" opacity="0.75">(</text>
<text x="373.57" y="1304.98" font-size="23" fill="#00ffff" opacity="0.75">)</text>
<line x1="591.0" y1="1330.9" x2="1168.2" y2="1330.9" stroke="#28f0f0" stroke-width="2.2" stroke-dasharray="2.2 3.93" opacity="0.6"/>
<line x1="588.0" y1="1321.9" x2="588.0" y2="1339.9" stroke="#e6e21e" stroke-width="2" opacity="0.23083198494515417"/>
<line x1="1170.2" y1="1321.9" x2="1170.2" y2="1339.9" stroke="#e6e21e" stroke-width="2" opacity="0.32987697769322355"/>
<ellipse cx="879.2" cy="1330.9" rx="10" ry="7.9" fill="none" stroke="#e6e21e" stroke-width="1.6" stroke-dasharray="4.2 1.6" opacity="1.0"/>
<text x="161.77" y="1340.04" font-size="23" textLength="113.73" lengthAdjust="spacingAndGlyphs" fill="#00ffff" style="font-family:&quot;Liberation Sans&quot;;font-weight:normal" stroke="#00ffff" stroke-width="0.1">Nadholta</text>
<text x="304.94" y="1340.04" font-size="23" textLength="64.47" lengthAdjust="spacingAndGlyphs" fill="#00ffff" stroke="#00ffff" stroke-width="0.1">2023</text>
<text x="294.77" y="1340.04" font-size="23" fill="#00ffff" opacity="0.75">(</text>
<text x="373.57" y="1340.04" font-size="23" fill="#00ffff" opacity="0.75">)</text>
<line x1="491.6" y1="1366.0" x2="1072.8" y2="1366.0" stroke="#28f0f0" stroke-width="2.2" stroke-dasharray="2.2 3.93" opacity="0.65"/>
<line x1="488.6" y1="1357.0" x2="488.6" y2="1375.0" stroke="#e6e21e" stroke-width="2" opacity="0.5651410628131079"/>
<line x1="1074.8" y1="1357.0" x2="1074.8" y2="1375.0" stroke="#e6e21e" stroke-width="2" opacity="0.8448663540236125"/>
<ellipse cx="782.2" cy="1366.0" rx="10" ry="7.9" fill="none" stroke="#e6e21e" stroke-width="1.6" stroke-dasharray="4.2 1.6" opacity="1.0"/>
<text x="232.12" y="1375.10" font-size="23" textLength="45.39" lengthAdjust="spacingAndGlyphs" fill="#00ffff" style="font-family:&quot;Liberation Sans&quot;;font-weight:normal" stroke="#00ffff" stroke-width="0.1">Niu</text>
<text x="304.94" y="1375.10" font-size="23" textLength="64.47" lengthAdjust="spacingAndGlyphs" fill="#00ffff" stroke="#00ffff" stroke-width="0.1">2017</text>
<text x="294.77" y="1375.10" font-size="23" fill="#00ffff" opacity="0.75">(</text>
<text x="373.57" y="1375.10" font-size="23" fill="#00ffff" opacity="0.75">)</text>
<line x1="518.2" y1="1392.1" x2="518.2" y2="1410.1" stroke="#e6e21e" stroke-width="2" opacity="1.0"/>
<line x1="1100.4" y1="1392.1" x2="1100.4" y2="1410.1" stroke="#e6e21e" stroke-width="2" opacity="1.0"/>
<ellipse cx="808.7" cy="1401.1" rx="10" ry="7.9" fill="none" stroke="#e6e21e" stroke-width="1.6" stroke-dasharray="4.2 1.6" opacity="1.0"/>
<text x="206.47" y="1410.16" font-size="23" textLength="70.95" lengthAdjust="spacingAndGlyphs" fill="#00ffff" style="font-family:&quot;Liberation Sans&quot;;font-weight:normal" stroke="#00ffff" stroke-width="0.1">Rong</text>
<text x="304.94" y="1410.16" font-size="23" textLength="64.47" lengthAdjust="spacingAndGlyphs" fill="#00ffff" stroke="#00ffff" stroke-width="0.1">2021</text>
<text x="294.77" y="1410.16" font-size="23" fill="#00ffff" opacity="0.75">(</text>
<text x="373.57" y="1410.16" font-size="23" fill="#00ffff" opacity="0.75">)</text>
<line x1="784.5" y1="1436.1" x2="1363.4" y2="1436.1" stroke="#28f0f0" stroke-width="2.2" stroke-dasharray="2.2 3.93" opacity="0.5"/>
<line x1="781.5" y1="1427.1" x2="781.5" y2="1445.1" stroke="#e6e21e" stroke-width="2" opacity="0.8448663540236125"/>
<line x1="1365.4" y1="1427.1" x2="1365.4" y2="1445.1" stroke="#e6e21e" stroke-width="2" opacity="1.0"/>
<ellipse cx="1073.5" cy="1436.1" rx="10" ry="7.9" fill="none" stroke="#e6e21e" stroke-width="1.6" stroke-dasharray="4.2 1.6" opacity="1.0"/>
<text x="202.11" y="1445.22" font-size="23" textLength="74.34" lengthAdjust="spacingAndGlyphs" fill="#00ffff" style="font-family:&quot;Liberation Sans&quot;;font-weight:normal" stroke="#00ffff" stroke-width="0.1">Shu,L</text>
<text x="304.94" y="1445.22" font-size="23" textLength="64.47" lengthAdjust="spacingAndGlyphs" fill="#00ffff" stroke="#00ffff" stroke-width="0.1">2018</text>
<text x="294.77" y="1445.22" font-size="23" fill="#00ffff" opacity="0.75">(</text>
<text x="373.57" y="1445.22" font-size="23" fill="#00ffff" opacity="0.75">)</text>
<line x1="738.1" y1="1471.2" x2="1314.6" y2="1471.2" stroke="#28f0f0" stroke-width="2.2" stroke-dasharray="2.2 3.93" opacity="0.25"/>
<line x1="735.1" y1="1462.2" x2="735.1" y2="1480.2" stroke="#e6e21e" stroke-width="2" opacity="0.23083198494515417"/>
<line x1="1316.6" y1="1462.2" x2="1316.6" y2="1480.2" stroke="#e6e21e" stroke-width="2" opacity="0.5651410628131079"/>
<ellipse cx="1025.8" cy="1471.2" rx="10" ry="7.9" fill="none" stroke="#e6e21e" stroke-width="1.6" stroke-dasharray="4.2 1.6" opacity="1.0"/>
<text x="202.11" y="1480.28" font-size="23" textLength="74.34" lengthAdjust="spacingAndGlyphs" fill="#00ffff" style="font-family:&quot;Liberation Sans&quot;;font-weight:normal" stroke="#00ffff" stroke-width="0.1">Shu,L</text>
<text x="304.94" y="1480.28" font-size="23" textLength="64.47" lengthAdjust="spacingAndGlyphs" fill="#00ffff" stroke="#00ffff" stroke-width="0.1">2019</text>
<text x="294.77" y="1480.28" font-size="23" fill="#00ffff" opacity="0.75">(</text>
<text x="373.57" y="1480.28" font-size="23" fill="#00ffff" opacity="0.75">)</text>
<line x1="521.2" y1="1506.2" x2="1098.4" y2="1506.2" stroke="#28f0f0" stroke-width="2.2" stroke-dasharray="2.2 3.93" opacity="0.9"/>
<line x1="518.2" y1="1497.2" x2="518.2" y2="1515.2" stroke="#e6e21e" stroke-width="2" opacity="1.0"/>
<line x1="1100.4" y1="1497.2" x2="1100.4" y2="1515.2" stroke="#e6e21e" stroke-width="2" opacity="1.0"/>
<ellipse cx="808.7" cy="1506.2" rx="10" ry="7.9" fill="none" stroke="#e6e21e" stroke-width="1.6" stroke-dasharray="4.2 1.6" opacity="1.0"/>
<text x="138.97" y="1515.34" font-size="23" textLength="137.76" lengthAdjust="spacingAndGlyphs" fill="#00ffff" style="font-family:&quot;Liberation Sans&quot;;font-weight:normal" stroke="#00ffff" stroke-width="0.1">Teychenne</text>
<text x="304.94" y="1515.34" font-size="23" textLength="64.47" lengthAdjust="spacingAndGlyphs" fill="#00ffff" stroke="#00ffff" stroke-width="0.1">2021</text>
<text x="294.77" y="1515.34" font-size="23" fill="#00ffff" opacity="0.75">(</text>
<text x="373.57" y="1515.34" font-size="23" fill="#00ffff" opacity="0.75">)</text>
<line x1="419.3" y1="1541.3" x2="1019.3" y2="1541.3" stroke="#28f0f0" stroke-width="2.2" stroke-dasharray="2.2 3.93" opacity="0.35"/>
<line x1="416.3" y1="1532.3" x2="416.3" y2="1550.3" stroke="#e6e21e" stroke-width="2" opacity="0.32987697769322355"/>
<line x1="1021.3" y1="1532.3" x2="1021.3" y2="1550.3" stroke="#e6e21e" stroke-width="2" opacity="0.8448663540236125"/>
<ellipse cx="718.5" cy="1541.3" rx="10" ry="7.9" fill="none" stroke="#e6e21e" stroke-width="1.6" stroke-dasharray="4.2 1.6" opacity="1.0"/>
<text x="195.69" y="1550.40" font-size="23" textLength="81.67" lengthAdjust="spacingAndGlyphs" fill="#00ffff" style="font-family:&quot;Liberation Sans&quot;;font-weight:normal" stroke="#00ffff" stroke-width="0.1">Zhang</text>
<text x="304.94" y="1550.40" font-size="23" textLength="64.47" lengthAdjust="spacingAndGlyphs" fill="#00ffff" stroke="#00ffff" stroke-width="0.1">2016</text>
<text x="294.77" y="1550.40" font-size="23" fill="#00ffff" opacity="0.75">(</text>
<text x="373.57" y="1550.40" font-size="23" fill="#00ffff" opacity="0.75">)</text>
<line x1="686.7" y1="1576.4" x2="1263.9" y2="1576.4" stroke="#28f0f0" stroke-width="2.2" stroke-dasharray="2.2 3.93" opacity="0.85"/>
<line x1="683.7" y1="1567.4" x2="683.7" y2="1585.4" stroke="#e6e21e" stroke-width="2" opacity="0.23083198494515417"/>
<line x1="1265.9" y1="1567.4" x2="1265.9" y2="1585.4" stroke="#e6e21e" stroke-width="2" opacity="0.4416131536906999"/>
<ellipse cx="974.7" cy="1576.4" rx="10" ry="7.9" fill="none" stroke="#e6e21e" stroke-width="1.6" stroke-dasharray="4.2 1.6" opacity="1.0"/>
<text x="211.08" y="1585.46" font-size="23" textLength="66.36" lengthAdjust="spacingAndGlyphs" fill="#00ffff" style="font-family:&quot;Liberation Sans&quot;;font-weight:normal" stroke="#00ffff" stroke-width="0.1">Zhou</text>
<text x="304.94" y="1585.46" font-size="23" textLength="64.47" lengthAdjust="spacingAndGlyphs" fill="#00ffff" stroke="#00ffff" stroke-width="0.1">2021</text>
<text x="294.77" y="1585.46" font-size="23" fill="#00ffff" opacity="0.75">(</text>
<text x="373.57" y="1585.46" font-size="23" fill="#00ffff" opacity="0.75">)</text>
<line x1="431.5" y1="1789.5" x2="431.5" y2="2402.3" stroke="#14e0e0" stroke-width="2.6"/>
<line x1="639.3" y1="1789.5" x2="639.3" y2="2402.3" stroke="#054141" stroke-width="2.6"/>
<line x1="919.8" y1="1789.5" x2="919.8" y2="2402.3" stroke="#14e0e0" stroke-width="2.6"/>
<line x1="1200" y1="1789.5" x2="1200" y2="2402.3" stroke="#057878" stroke-width="2.6"/>
<line x1="430.2" y1="2389" x2="1365" y2="2389" stroke="#14e0e0" stroke-width="2.6"/>
<line x1="1364" y1="2389" x2="1364" y2="2402.3" stroke="#14e0e0" stroke-width="2"/>
<text x="401.60" y="2423.70" font-size="22.5" textLength="66.67" lengthAdjust="spacingAndGlyphs" fill="#00ffff" style="font-family:&quot;Liberation Sans&quot;;font-weight:normal" stroke="#00ffff" stroke-width="0.15">-0.82</text>
<text x="609.81" y="2423.70" font-size="22.5" textLength="65.94" lengthAdjust="spacingAndGlyphs" fill="#00ffff" style="font-family:&quot;Liberation Sans&quot;;font-weight:normal" stroke="#00ffff" stroke-width="0.15">-0.72</text>
<text x="889.91" y="2423.70" font-size="22.5" textLength="66.25" lengthAdjust="spacingAndGlyphs" fill="#00ffff" style="font-family:&quot;Liberation Sans&quot;;font-weight:normal" stroke="#00ffff" stroke-width="0.15">-0.58</text>
<text x="1171.14" y="2423.70" font-size="22.5" textLength="64.65" lengthAdjust="spacingAndGlyphs" fill="#00ffff" style="font-family:&quot;Liberation Sans&quot;;font-weight:normal" stroke="#00ffff" stroke-width="0.15">-0.45</text>
<text x="1334.00" y="2423.70" font-size="22.5" textLength="66.88" lengthAdjust="spacingAndGlyphs" fill="#00ffff" style="font-family:&quot;Liberation Sans&quot;;font-weight:normal" stroke="#00ffff" stroke-width="0.15">-0.37</text>
<text x="438.96" y="1742.00" font-size="21.5" textLength="691.78" lengthAdjust="spacingAndGlyphs" fill="#00ffff" style="font-family:&quot;Liberation Sans&quot;;font-weight:normal" stroke="#00ffff" stroke-width="0.15">Meta-analysis estimates, given named study is omitted</text>
<line x1="437.0" y1="1757.0" x2="437.0" y2="1775.0" stroke="#e6e21e" stroke-width="2" opacity="0.6"/>
<line x1="1060.3" y1="1757.0" x2="1060.3" y2="1775.0" stroke="#e6e21e" stroke-width="2" opacity="0.6"/>
<ellipse cx="748.0" cy="1766.0" rx="9.6" ry="7.6" fill="none" stroke="#e6e21e" stroke-width="1.6" stroke-dasharray="4.2 1.6" opacity="1.0"/>
<text x="450.34" y="1773.80" font-size="22" textLength="184.07" lengthAdjust="spacingAndGlyphs" fill="#00ffff" style="font-family:&quot;Liberation Sans&quot;;font-weight:normal" stroke="#00ffff" stroke-width="0.15">Lower CI Limit</text>
<text x="761.03" y="1773.80" font-size="22" textLength="112.56" lengthAdjust="spacingAndGlyphs" fill="#00ffff" style="font-family:&quot;Liberation Sans&quot;;font-weight:normal" stroke="#00ffff" stroke-width="0.15">Estimate</text>
<text x="1072.39" y="1773.80" font-size="22" textLength="183.22" lengthAdjust="spacingAndGlyphs" fill="#00ffff" style="font-family:&quot;Liberation Sans&quot;;font-weight:normal" stroke="#00ffff" stroke-width="0.15">Upper CI Limit</text>
<line x1="782.7" y1="1811.2" x2="1361.0" y2="1811.2" stroke="#28f0f0" stroke-width="2.2" stroke-dasharray="2.2 3.93" opacity="0.6"/>
<line x1="779.7" y1="1802.2" x2="779.7" y2="1820.2" stroke="#e6e21e" stroke-width="2" opacity="0.6997517273236981"/>
<line x1="1363.0" y1="1802.2" x2="1363.0" y2="1820.2" stroke="#e6e21e" stroke-width="2" opacity="1.0"/>
<ellipse cx="1072.4" cy="1811.2" rx="9.3" ry="7.9" fill="none" stroke="#e6e21e" stroke-width="1.6" stroke-dasharray="4.2 1.6" opacity="1.0"/>
<text x="165.14" y="1821.00" font-size="23.5" textLength="125.86" lengthAdjust="spacingAndGlyphs" fill="#00ffff" style="font-family:&quot;Liberation Sans&quot;;font-weight:normal" stroke="#00ffff" stroke-width="0.15">Ashrafinia</text>
<text x="320.25" y="1821.00" font-size="23.5" textLength="64.16" lengthAdjust="spacingAndGlyphs" fill="#00ffff" stroke="#00ffff" stroke-width="0.15">2015</text>
<text x="309.44" y="1821.00" font-size="23.5" fill="#00ffff" opacity="0.75">(</text>
<text x="388.43" y="1821.00" font-size="23.5" fill="#00ffff" opacity="0.75">)</text>
<line x1="648.6" y1="1881.0" x2="1210.8" y2="1881.0" stroke="#28f0f0" stroke-width="2.2" stroke-dasharray="2.2 3.93" opacity="0.7"/>
<line x1="645.6" y1="1872.0" x2="645.6" y2="1890.0" stroke="#e6e21e" stroke-width="2" opacity="0.8448663540236125"/>
<line x1="1212.8" y1="1872.0" x2="1212.8" y2="1890.0" stroke="#e6e21e" stroke-width="2" opacity="0.23083198494515417"/>
<ellipse cx="930.1" cy="1881.0" rx="9.3" ry="7.9" fill="none" stroke="#e6e21e" stroke-width="1.6" stroke-dasharray="4.2 1.6" opacity="1.0"/>
<text x="177.14" y="1890.75" font-size="23.5" textLength="115.14" lengthAdjust="spacingAndGlyphs" fill="#00ffff" style="font-family:&quot;Liberation Sans&quot;;font-weight:normal" stroke="#00ffff" stroke-width="0.15">Duchette</text>
<text x="320.25" y="1890.75" font-size="23.5" textLength="64.16" lengthAdjust="spacingAndGlyphs" fill="#00ffff" stroke="#00ffff" stroke-width="0.15">2021</text>
<text x="309.44" y="1890.75" font-size="23.5" fill="#00ffff" opacity="0.75">(</text>
<text x="388.43" y="1890.75" font-size="23.5" fill="#00ffff" opacity="0.75">)</text>
<line x1="563.6" y1="1950.7" x2="1153.2" y2="1950.7" stroke="#28f0f0" stroke-width="2.2" stroke-dasharray="2.2 3.93" opacity="0.5"/>
<line x1="560.6" y1="1941.7" x2="560.6" y2="1959.7" stroke="#e6e21e" stroke-width="2" opacity="0.8448663540236125"/>
<line x1="1155.2" y1="1941.7" x2="1155.2" y2="1959.7" stroke="#e6e21e" stroke-width="2" opacity="0.6997517273236981"/>
<ellipse cx="857.5" cy="1950.7" rx="9.3" ry="7.9" fill="none" stroke="#e6e21e" stroke-width="1.6" stroke-dasharray="4.2 1.6" opacity="1.0"/>
<text x="129.57" y="1960.50" font-size="23.5" textLength="161.43" lengthAdjust="spacingAndGlyphs" fill="#00ffff" style="font-family:&quot;Liberation Sans&quot;;font-weight:normal" stroke="#00ffff" stroke-width="0.15">Guszkowska</text>
<text x="320.25" y="1960.50" font-size="23.5" textLength="64.16" lengthAdjust="spacingAndGlyphs" fill="#00ffff" stroke="#00ffff" stroke-width="0.15">2013</text>
<text x="309.44" y="1960.50" font-size="23.5" fill="#00ffff" opacity="0.75">(</text>
<text x="388.43" y="1960.50" font-size="23.5" fill="#00ffff" opacity="0.75">)</text>
<line x1="707.5" y1="2020.5" x2="1299.7" y2="2020.5" stroke="#28f0f0" stroke-width="2.2" stroke-dasharray="2.2 3.93" opacity="0.9"/>
<line x1="704.5" y1="2011.5" x2="704.5" y2="2029.5" stroke="#e6e21e" stroke-width="2" opacity="0.008286135043349966"/>
<line x1="1301.7" y1="2011.5" x2="1301.7" y2="2029.5" stroke="#e6e21e" stroke-width="2" opacity="0.6997517273236981"/>
<ellipse cx="1005.0" cy="2020.5" rx="9.3" ry="7.9" fill="none" stroke="#e6e21e" stroke-width="1.6" stroke-dasharray="4.2 1.6" opacity="1.0"/>
<text x="170.93" y="2030.25" font-size="23.5" textLength="121.93" lengthAdjust="spacingAndGlyphs" fill="#00ffff" style="font-family:&quot;Liberation Sans&quot;;font-weight:normal" stroke="#00ffff" stroke-width="0.15">Haakstad</text>
<text x="320.25" y="2030.25" font-size="23.5" textLength="64.16" lengthAdjust="spacingAndGlyphs" fill="#00ffff" stroke="#00ffff" stroke-width="0.15">2016</text>
<text x="309.44" y="2030.25" font-size="23.5" fill="#00ffff" opacity="0.75">(</text>
<text x="388.43" y="2030.25" font-size="23.5" fill="#00ffff" opacity="0.75">)</text>
<line x1="652.9" y1="2090.2" x2="1229.8" y2="2090.2" stroke="#28f0f0" stroke-width="2.2" stroke-dasharray="2.2 3.93" opacity="0.85"/>
<line x1="649.9" y1="2081.2" x2="649.9" y2="2099.2" stroke="#e6e21e" stroke-width="2" opacity="0.5651410628131079"/>
<line x1="1231.8" y1="2081.2" x2="1231.8" y2="2099.2" stroke="#e6e21e" stroke-width="2" opacity="0.5651410628131079"/>
<ellipse cx="940.6" cy="2090.2" rx="9.3" ry="7.9" fill="none" stroke="#e6e21e" stroke-width="1.6" stroke-dasharray="4.2 1.6" opacity="1.0"/>
<text x="255.43" y="2100.00" font-size="23.5" textLength="36.83" lengthAdjust="spacingAndGlyphs" fill="#00ffff" style="font-family:&quot;Liberation Sans&quot;;font-weight:normal" stroke="#00ffff" stroke-width="0.15">Ko</text>
<text x="320.25" y="2100.00" font-size="23.5" textLength="64.16" lengthAdjust="spacingAndGlyphs" fill="#00ffff" stroke="#00ffff" stroke-width="0.15">2008</text>
<text x="309.44" y="2100.00" font-size="23.5" fill="#00ffff" opacity="0.75">(</text>
<text x="388.43" y="2100.00" font-size="23.5" fill="#00ffff" opacity="0.75">)</text>
<line x1="640.5" y1="2159.9" x2="1225.4" y2="2159.9" stroke="#28f0f0" stroke-width="2.2" stroke-dasharray="2.2 3.93" opacity="0.7"/>
<line x1="637.5" y1="2150.9" x2="637.5" y2="2168.9" stroke="#e6e21e" stroke-width="2" opacity="0.8448663540236125"/>
<line x1="1227.4" y1="2150.9" x2="1227.4" y2="2168.9" stroke="#e6e21e" stroke-width="2" opacity="0.5651410628131079"/>
<ellipse cx="932.8" cy="2159.9" rx="9.3" ry="7.9" fill="none" stroke="#e6e21e" stroke-width="1.6" stroke-dasharray="4.2 1.6" opacity="1.0"/>
<text x="134.84" y="2169.75" font-size="23.5" textLength="158.09" lengthAdjust="spacingAndGlyphs" fill="#00ffff" style="font-family:&quot;Liberation Sans&quot;;font-weight:normal" stroke="#00ffff" stroke-width="0.15">Mohammadi</text>
<text x="320.25" y="2169.75" font-size="23.5" textLength="64.16" lengthAdjust="spacingAndGlyphs" fill="#00ffff" stroke="#00ffff" stroke-width="0.15">2015</text>
<text x="309.44" y="2169.75" font-size="23.5" fill="#00ffff" opacity="0.75">(</text>
<text x="388.43" y="2169.75" font-size="23.5" fill="#00ffff" opacity="0.75">)</text>
<line x1="598.0" y1="2229.7" x2="1185.2" y2="2229.7" stroke="#28f0f0" stroke-width="2.2" stroke-dasharray="2.2 3.93" opacity="0.85"/>
<line x1="595.0" y1="2220.7" x2="595.0" y2="2238.7" stroke="#e6e21e" stroke-width="2" opacity="0.6997517273236981"/>
<line x1="1187.2" y1="2220.7" x2="1187.2" y2="2238.7" stroke="#e6e21e" stroke-width="2" opacity="0.5651410628131079"/>
<ellipse cx="891.2" cy="2229.7" rx="9.3" ry="7.9" fill="none" stroke="#e6e21e" stroke-width="1.6" stroke-dasharray="4.2 1.6" opacity="1.0"/>
<text x="170.76" y="2239.50" font-size="23.5" textLength="120.70" lengthAdjust="spacingAndGlyphs" fill="#00ffff" style="font-family:&quot;Liberation Sans&quot;;font-weight:normal" stroke="#00ffff" stroke-width="0.15">O’Connor</text>
<text x="320.25" y="2239.50" font-size="23.5" textLength="64.16" lengthAdjust="spacingAndGlyphs" fill="#00ffff" stroke="#00ffff" stroke-width="0.15">2018</text>
<text x="309.44" y="2239.50" font-size="23.5" fill="#00ffff" opacity="0.75">(</text>
<text x="388.43" y="2239.50" font-size="23.5" fill="#00ffff" opacity="0.75">)</text>
<line x1="548.9" y1="2299.4" x2="1155.6" y2="2299.4" stroke="#28f0f0" stroke-width="2.2" stroke-dasharray="2.2 3.93" opacity="0.3"/>
<line x1="545.9" y1="2290.4" x2="545.9" y2="2308.4" stroke="#e6e21e" stroke-width="2" opacity="0.6997517273236981"/>
<line x1="1157.6" y1="2290.4" x2="1157.6" y2="2308.4" stroke="#e6e21e" stroke-width="2" opacity="0.32987697769322355"/>
<ellipse cx="851.6" cy="2299.4" rx="9.3" ry="7.9" fill="none" stroke="#e6e21e" stroke-width="1.6" stroke-dasharray="4.2 1.6" opacity="1.0"/>
<text x="227.28" y="2309.25" font-size="23.5" textLength="65.52" lengthAdjust="spacingAndGlyphs" fill="#00ffff" style="font-family:&quot;Liberation Sans&quot;;font-weight:normal" stroke="#00ffff" stroke-width="0.15">Yang</text>
<text x="320.25" y="2309.25" font-size="23.5" textLength="64.16" lengthAdjust="spacingAndGlyphs" fill="#00ffff" stroke="#00ffff" stroke-width="0.15">2018</text>
<text x="309.44" y="2309.25" font-size="23.5" fill="#00ffff" opacity="0.75">(</text>
<text x="388.43" y="2309.25" font-size="23.5" fill="#00ffff" opacity="0.75">)</text>
<line x1="434.5" y1="2369.2" x2="1077.3" y2="2369.2" stroke="#28f0f0" stroke-width="2.2" stroke-dasharray="2.2 3.93" opacity="0.45"/>
<line x1="431.5" y1="2360.2" x2="431.5" y2="2378.2" stroke="#e6e21e" stroke-width="2" opacity="1.0"/>
<line x1="1079.3" y1="2360.2" x2="1079.3" y2="2378.2" stroke="#e6e21e" stroke-width="2" opacity="1.0"/>
<ellipse cx="754.5" cy="2369.2" rx="9.3" ry="7.9" fill="none" stroke="#e6e21e" stroke-width="1.6" stroke-dasharray="4.2 1.6" opacity="1.0"/>
<text x="210.38" y="2379.00" font-size="23.5" textLength="82.50" lengthAdjust="spacingAndGlyphs" fill="#00ffff" style="font-family:&quot;Liberation Sans&quot;;font-weight:normal" stroke="#00ffff" stroke-width="0.15">Zhang</text>
<text x="320.25" y="2379.00" font-size="23.5" textLength="64.16" lengthAdjust="spacingAndGlyphs" fill="#00ffff" stroke="#00ffff" stroke-width="0.15">2022</text>
<text x="309.44" y="2379.00" font-size="23.5" fill="#00ffff" opacity="0.75">(</text>
<text x="388.43" y="2379.00" font-size="23.5" fill="#00ffff" opacity="0.75">)</text>
<text x="88.98" y="422.80" font-size="66" textLength="45.89" lengthAdjust="spacingAndGlyphs" fill="#ee1c24" style="font-family:&quot;Liberation Serif&quot;;font-weight:bold" >A</text>
<text x="89.72" y="1346.10" font-size="66" textLength="43.39" lengthAdjust="spacingAndGlyphs" fill="#ee1c24" style="font-family:&quot;Liberation Serif&quot;;font-weight:bold" >B</text>
<text x="78.82" y="2176.30" font-size="66" textLength="48.49" lengthAdjust="spacingAndGlyphs" fill="#ee1c24" style="font-family:&quot;Liberation Serif&quot;;font-weight:bold" >C</text>
</svg>
</body></html>
